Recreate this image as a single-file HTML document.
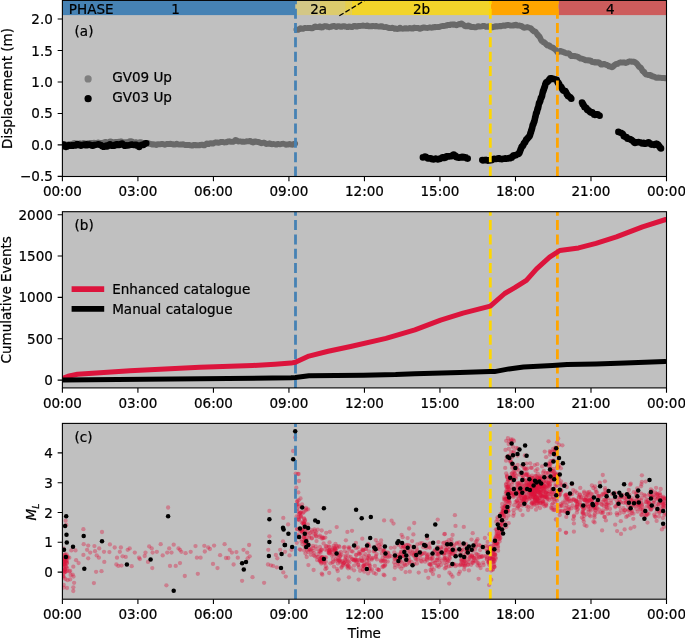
<!DOCTYPE html>
<html lang="en"><head><meta charset="utf-8"><title>Figure</title>
<style>html,body{margin:0;padding:0;background:#fff}svg{display:block}</style></head>
<body>
<svg width="685" height="638" viewBox="0 0 685 638" font-family='"DejaVu Sans","Liberation Sans",sans-serif' font-size="13.54" fill="#000"><style>text{stroke:#000;stroke-width:0.22px}</style>
<rect width="685" height="638" fill="#fff"/>
<defs>
<clipPath id="ca"><rect x="62.4" y="0.4" width="604.1" height="176.1"/></clipPath>
<clipPath id="cb"><rect x="62.4" y="211.7" width="604.1" height="176.2"/></clipPath>
<clipPath id="cc"><rect x="62.4" y="423.4" width="604.1" height="175.80000000000007"/></clipPath>
</defs>
<rect x="62.4" y="0.4" width="604.1" height="176.1" fill="#c0c0c0"/>
<rect x="62.4" y="211.7" width="604.1" height="176.2" fill="#c0c0c0"/>
<rect x="62.4" y="423.4" width="604.1" height="175.8" fill="#c0c0c0"/>
<g clip-path="url(#ca)">
<rect x="62.4" y="0" width="233.1" height="15.1" fill="#4682b4"/>
<rect x="295.5" y="0" width="24.5" height="15.1" fill="#d3c786"/>
<rect x="320.0" y="0" width="25.1" height="15.1" fill="#dccb6c"/>
<rect x="345.1" y="0" width="6.7" height="15.1" fill="#e6ce4c"/>
<rect x="351.8" y="0" width="139.2" height="15.1" fill="#f2d42a"/>
<rect x="491.0" y="0" width="67.5" height="15.1" fill="#ffa500"/>
<rect x="558.5" y="0" width="108.0" height="15.1" fill="#cd5c5c"/>
<path d="M339.3 15.8L364.4 0.6" stroke="#000" stroke-width="1.3" stroke-dasharray="5 2.2" fill="none"/>
<path d="M62.4 144.4h0M63.1 144.3h0M63.8 144.0h0M64.5 144.0h0M65.2 144.5h0M65.9 144.5h0M66.6 144.6h0M67.3 144.6h0M68.0 144.4h0M68.7 144.5h0M69.4 144.4h0M70.1 144.3h0M70.8 144.4h0M71.5 144.0h0M72.2 144.1h0M72.9 143.7h0M73.6 143.2h0M74.4 143.1h0M75.1 143.1h0M75.8 143.3h0M76.5 143.6h0M77.2 144.0h0M77.9 144.0h0M78.6 143.7h0M79.3 143.5h0M80.0 143.5h0M80.7 143.5h0M81.4 143.6h0M82.1 143.6h0M82.8 143.3h0M83.5 143.0h0M84.2 143.5h0M84.9 143.4h0M85.6 143.5h0M86.3 143.9h0M87.0 143.4h0M87.7 143.5h0M88.4 143.5h0M89.1 143.2h0M89.8 143.0h0M90.5 143.0h0M91.2 143.2h0M91.9 142.8h0M92.6 143.2h0M93.3 143.1h0M94.0 142.6h0M94.7 143.4h0M95.4 143.3h0M96.1 143.0h0M96.8 143.1h0M97.5 142.7h0M98.2 142.5h0M98.9 142.9h0M99.6 142.8h0M100.3 142.8h0M101.0 143.2h0M101.7 142.8h0M102.4 142.9h0M103.1 142.6h0M103.8 142.3h0M104.5 142.1h0M105.2 141.9h0M105.9 142.0h0M106.6 142.1h0M107.3 142.6h0M108.0 142.4h0M108.7 142.2h0M109.4 142.1h0M110.1 141.4h0M110.8 141.6h0M111.5 141.7h0M112.2 141.8h0M112.9 142.4h0M113.6 142.4h0M114.4 142.3h0M115.1 141.9h0M115.8 142.1h0M116.5 142.0h0M117.2 142.0h0M117.9 142.1h0M118.6 141.7h0M119.3 141.8h0M120.0 141.6h0M120.7 141.5h0M121.4 141.5h0M122.1 141.8h0M122.8 142.2h0M123.5 142.2h0M124.2 142.5h0M124.9 142.2h0M125.6 142.3h0M126.3 142.3h0M127.0 142.3h0M127.7 142.1h0M128.4 142.0h0M129.1 141.7h0M129.8 141.1h0M130.5 141.3h0M131.2 141.1h0M131.9 141.5h0M132.6 142.5h0M133.3 142.4h0M134.0 142.5h0M134.7 142.5h0M135.4 142.2h0M136.1 142.3h0M136.8 142.5h0M137.5 142.6h0M138.2 142.6h0M138.9 142.5h0M139.7 142.5h0M140.3 142.4h0M141.0 142.2h0M141.7 142.7h0M142.4 142.6h0M143.1 143.0h0M143.8 143.4h0M144.5 143.5h0M145.2 143.7h0M145.9 143.6h0M146.6 143.2h0M147.2 143.1h0M147.9 143.4h0M148.6 143.1h0M149.3 143.9h0M150.0 143.9h0M150.7 144.0h0M151.4 144.3h0M152.1 144.2h0M152.8 144.7h0M153.5 144.1h0M154.2 144.6h0M154.9 144.7h0M155.6 144.7h0M156.3 145.0h0M157.0 144.6h0M157.7 144.1h0M158.4 144.3h0M159.1 144.3h0M159.8 144.3h0M160.5 144.3h0M161.3 143.9h0M162.0 143.8h0M162.7 144.0h0M163.4 144.2h0M164.1 144.5h0M164.8 144.8h0M165.5 144.4h0M166.2 144.3h0M166.9 144.0h0M167.6 144.0h0M168.3 144.0h0M169.0 144.0h0M169.7 143.8h0M170.4 143.7h0M171.1 144.2h0M171.8 144.1h0M172.5 144.2h0M173.2 144.5h0M173.9 144.5h0M174.6 144.3h0M175.3 144.5h0M176.0 144.4h0M176.7 143.7h0M177.4 144.2h0M178.1 144.3h0M178.8 144.5h0M179.5 144.7h0M180.2 144.7h0M180.9 144.6h0M181.6 144.6h0M182.3 144.5h0M183.0 144.2h0M183.7 144.6h0M184.4 144.6h0M185.1 144.9h0M185.8 145.2h0M186.5 144.9h0M187.3 144.9h0M188.0 145.0h0M188.7 145.0h0M189.4 145.1h0M190.1 145.2h0M190.8 145.4h0M191.5 145.6h0M192.2 145.6h0M192.9 145.5h0M193.6 144.8h0M194.3 144.8h0M195.0 144.9h0M195.7 145.0h0M196.4 145.4h0M197.1 145.3h0M197.8 145.2h0M198.5 145.4h0M199.2 145.1h0M199.9 145.3h0M200.6 144.8h0M201.3 144.7h0M202.0 144.9h0M202.7 144.7h0M203.4 145.3h0M204.1 145.4h0M204.8 145.0h0M205.5 144.4h0M206.2 144.1h0M206.9 143.5h0M207.6 143.7h0M208.3 144.2h0M209.0 143.6h0M209.7 143.4h0M210.4 143.3h0M211.1 143.1h0M211.8 143.3h0M212.5 143.7h0M213.2 143.4h0M213.9 142.9h0M214.6 142.8h0M215.3 142.5h0M216.0 142.3h0M216.7 142.6h0M217.4 142.5h0M218.1 142.8h0M218.8 142.8h0M219.5 142.5h0M220.2 142.2h0M220.9 141.8h0M221.6 142.0h0M222.3 141.8h0M223.0 142.1h0M223.7 142.2h0M224.4 142.6h0M225.1 142.3h0M225.8 142.4h0M226.5 142.2h0M227.2 141.7h0M227.9 141.6h0M228.6 141.3h0M229.3 141.5h0M230.0 141.5h0M230.7 141.8h0M231.4 141.8h0M232.1 141.9h0M232.8 141.9h0M233.5 141.4h0M234.2 141.3h0M234.9 140.6h0M235.6 139.8h0M236.3 140.2h0M237.0 140.6h0M237.7 141.1h0M238.4 141.5h0M239.1 141.4h0M239.8 141.4h0M240.5 141.4h0M241.2 141.6h0M241.9 141.8h0M242.6 141.6h0M243.3 141.7h0M244.0 141.8h0M244.7 141.8h0M245.4 141.6h0M246.1 141.5h0M246.8 141.2h0M247.5 141.4h0M248.2 141.3h0M248.9 141.2h0M249.7 141.3h0M250.3 140.9h0M251.0 141.6h0M251.7 142.0h0M252.4 142.0h0M253.1 142.5h0M253.8 142.3h0M254.5 141.5h0M255.2 141.7h0M255.9 141.6h0M256.6 141.6h0M257.3 142.0h0M258.0 142.0h0M258.7 142.0h0M259.4 142.3h0M260.1 142.7h0M260.8 142.9h0M261.5 143.3h0M262.2 143.0h0M262.9 142.9h0M263.6 142.6h0M264.3 142.7h0M265.0 143.1h0M265.7 143.5h0M266.4 144.1h0M267.1 143.8h0M267.8 143.8h0M268.5 143.6h0M269.2 143.5h0M269.9 143.5h0M270.6 143.9h0M271.3 144.2h0M272.0 144.3h0M272.7 144.2h0M273.4 143.8h0M274.1 144.1h0M274.8 144.3h0M275.5 144.6h0M276.2 144.7h0M276.9 144.1h0M277.6 144.0h0M278.3 144.2h0M279.0 144.1h0M279.7 144.3h0M280.4 144.3h0M281.1 144.1h0M281.8 143.9h0M282.5 143.9h0M283.2 143.7h0M283.9 143.9h0M284.7 144.1h0M285.4 144.3h0M286.1 144.8h0M286.8 144.5h0M287.5 144.6h0M288.2 144.5h0M288.9 144.1h0M289.6 144.0h0M290.3 144.2h0M291.0 144.6h0M291.7 144.6h0M292.4 144.8h0M293.1 144.4h0M293.8 144.0h0M294.5 143.8h0M295.2 143.6h0" stroke="#696969" stroke-width="5.8" stroke-linecap="round" fill="none"/>
<path d="M296.4 29.4h0M297.1 29.8h0M297.8 29.9h0M298.5 29.5h0M299.2 29.2h0M299.9 28.7h0M300.6 28.2h0M301.3 28.5h0M302.0 28.8h0M302.7 28.9h0M303.4 28.6h0M304.1 28.1h0M304.8 27.9h0M305.5 28.0h0M306.2 28.1h0M306.9 28.2h0M307.6 28.0h0M308.3 28.0h0M309.0 27.9h0M309.7 27.8h0M310.4 27.9h0M311.1 28.3h0M311.8 28.3h0M312.5 28.3h0M313.2 27.7h0M313.9 27.4h0M314.6 26.7h0M315.3 26.3h0M316.0 26.9h0M316.7 26.9h0M317.4 27.2h0M318.1 27.1h0M318.8 26.8h0M319.5 26.4h0M320.2 26.5h0M320.9 27.4h0M321.6 27.5h0M322.3 27.4h0M323.0 26.9h0M323.7 26.3h0M324.4 26.2h0M325.1 26.1h0M325.8 26.4h0M326.5 26.2h0M327.2 26.4h0M327.9 26.9h0M328.6 27.1h0M329.3 27.3h0M330.0 27.1h0M330.7 26.9h0M331.4 26.5h0M332.1 26.6h0M332.8 26.1h0M333.5 25.8h0M334.2 26.1h0M334.9 26.1h0M335.6 26.5h0M336.3 27.0h0M337.0 26.4h0M337.7 26.3h0M338.4 26.3h0M339.1 26.1h0M339.8 26.4h0M340.5 26.8h0M341.2 26.9h0M341.9 26.5h0M342.6 26.4h0M343.3 26.3h0M344.0 26.3h0M344.7 26.2h0M345.4 26.7h0M346.1 26.6h0M346.8 26.8h0M347.5 27.2h0M348.2 26.8h0M348.9 26.4h0M349.6 26.7h0M350.4 26.7h0M351.1 27.1h0M351.8 27.2h0M352.5 26.7h0M353.2 26.3h0M353.9 25.9h0M354.6 26.2h0M355.3 25.9h0M356.0 26.5h0M356.7 26.7h0M357.4 26.2h0M358.1 26.3h0M358.8 26.0h0M359.5 25.9h0M360.2 26.0h0M360.9 25.9h0M361.6 25.9h0M362.3 25.7h0M363.0 25.5h0M363.7 25.7h0M364.4 25.9h0M365.1 25.8h0M365.8 26.1h0M366.5 25.9h0M367.2 25.5h0M367.9 26.0h0M368.6 25.9h0M369.3 26.4h0M370.0 26.4h0M370.7 26.3h0M371.4 26.4h0M372.1 25.8h0M372.8 26.1h0M373.5 26.0h0M374.2 26.2h0M374.9 26.3h0M375.6 26.0h0M376.3 26.1h0M377.0 26.1h0M377.7 26.4h0M378.4 26.6h0M379.1 26.7h0M379.8 26.4h0M380.5 26.4h0M381.2 26.5h0M381.9 26.2h0M382.5 26.7h0M383.2 26.9h0M383.9 26.9h0M384.6 27.2h0M385.3 27.2h0M386.0 26.8h0M386.7 27.3h0M387.4 27.5h0M388.1 27.6h0M388.8 28.1h0M389.5 27.9h0M390.2 28.2h0M390.9 28.2h0M391.6 27.8h0M392.3 27.6h0M393.0 27.9h0M393.7 28.1h0M394.4 28.5h0M395.1 28.9h0M395.8 28.6h0M396.5 28.7h0M397.2 29.1h0M397.9 28.9h0M398.6 28.6h0M399.3 28.4h0M400.0 27.7h0M400.7 28.1h0M401.4 28.7h0M402.1 28.7h0M402.8 28.8h0M403.5 28.6h0M404.2 28.7h0M404.9 28.2h0M405.6 28.6h0M406.3 28.4h0M407.0 28.3h0M407.7 28.7h0M408.4 28.4h0M409.1 28.3h0M409.8 27.8h0M410.5 28.3h0M411.2 28.5h0M411.9 28.7h0M412.6 28.7h0M413.3 27.9h0M414.0 27.6h0M414.7 27.7h0M415.4 27.8h0M416.1 28.2h0M416.8 28.0h0M417.5 27.9h0M418.2 27.9h0M418.9 28.2h0M419.6 28.8h0M420.3 28.8h0M421.0 28.6h0M421.7 28.3h0M422.4 27.7h0M423.1 27.6h0M423.8 27.7h0M424.5 27.5h0M425.2 27.7h0M425.9 27.9h0M426.6 27.9h0M427.4 28.1h0M428.1 27.8h0M428.8 27.6h0M429.5 27.5h0M430.2 27.4h0M430.9 27.6h0M431.6 27.8h0M432.3 27.5h0M433.0 27.6h0M433.7 27.2h0M434.4 27.1h0M435.1 27.3h0M435.8 26.8h0M436.5 27.1h0M437.2 27.1h0M437.8 27.0h0M438.5 27.2h0M439.2 27.0h0M439.9 26.6h0M440.6 26.4h0M441.3 26.3h0M442.0 26.2h0M442.7 26.0h0M443.3 26.0h0M444.0 26.0h0M444.7 25.8h0M445.4 25.8h0M446.1 25.7h0M446.8 25.1h0M447.4 25.1h0M448.1 25.1h0M448.8 24.9h0M449.5 25.2h0M450.2 24.7h0M450.9 24.5h0M451.6 24.6h0M452.3 24.6h0M453.0 24.8h0M453.7 24.5h0M454.4 24.5h0M455.1 24.7h0M455.8 24.9h0M456.5 25.3h0M457.2 24.8h0M457.9 24.7h0M458.6 24.5h0M459.3 23.9h0M460.0 24.3h0M460.7 23.7h0M461.4 23.5h0M462.1 24.0h0M462.8 24.4h0M463.5 24.8h0M464.1 25.3h0M464.8 26.0h0M465.5 26.2h0M466.2 26.4h0M466.9 26.4h0M467.6 25.9h0M468.3 25.5h0M469.0 25.8h0M469.6 26.0h0M470.3 26.4h0M471.0 27.0h0M471.7 26.8h0M472.4 26.8h0M473.1 27.0h0M473.8 26.9h0M474.5 27.3h0M475.2 27.4h0M475.9 27.2h0M476.6 27.1h0M477.3 26.7h0M478.0 26.2h0M478.7 26.4h0M479.4 26.3h0M480.1 26.6h0M480.8 26.6h0M481.5 26.4h0M482.2 26.3h0M482.9 26.0h0M483.6 25.9h0M484.3 25.9h0M485.0 26.2h0M485.7 26.5h0M486.4 26.9h0M487.1 26.9h0M487.9 26.9h0M488.6 26.2h0M489.3 26.3h0M490.0 26.4h0M490.7 26.3h0M491.3 27.2h0M492.0 27.4h0M492.7 27.3h0M493.4 27.1h0M494.1 26.9h0M494.8 26.4h0M495.5 26.2h0M496.2 26.3h0M496.9 26.5h0M497.6 26.5h0M498.3 26.4h0M499.0 26.2h0M499.7 26.0h0M500.4 26.0h0M501.1 26.3h0M501.8 26.0h0M502.5 25.7h0M503.2 25.6h0M503.9 25.4h0M504.6 25.9h0M505.3 25.5h0M506.0 25.4h0M506.7 25.2h0M507.4 24.8h0M508.1 24.8h0M508.8 25.2h0M509.5 25.3h0M510.2 25.5h0M510.9 25.7h0M511.6 25.7h0M512.3 25.5h0M513.1 25.6h0M513.8 25.5h0M514.5 25.0h0M515.2 25.1h0M515.9 24.7h0M516.6 25.1h0M517.2 25.5h0M517.9 25.3h0M518.6 25.6h0M519.3 25.5h0M520.0 25.8h0M520.7 25.9h0M521.4 25.9h0M522.1 26.4h0M522.8 26.8h0M523.5 27.5h0M524.2 27.8h0M524.9 27.7h0M525.6 27.6h0M526.2 27.3h0M526.9 27.1h0M527.6 27.2h0M528.2 27.4h0M528.8 27.6h0M529.4 27.8h0M530.0 27.8h0M530.6 28.2h0M531.2 28.6h0M531.8 29.3h0M532.4 30.1h0M533.0 30.4h0M533.6 30.9h0M534.2 31.4h0M534.8 31.5h0M535.3 31.7h0M535.8 32.1h0M536.2 32.8h0M536.7 33.6h0M537.1 34.0h0M537.5 34.7h0M538.0 35.0h0M538.4 35.7h0M538.8 36.0h0M539.3 36.4h0M539.7 36.9h0M540.2 37.9h0M540.6 39.0h0M541.0 39.8h0M541.5 40.6h0M541.9 41.0h0M542.4 41.3h0M542.9 41.6h0M543.5 42.2h0M544.1 42.2h0M544.6 42.8h0M545.2 43.2h0M545.8 43.8h0M546.4 44.4h0M546.9 44.8h0M547.5 45.5h0M548.1 45.0h0M548.6 45.2h0M549.2 45.4h0M549.8 45.8h0M550.4 46.8h0M550.9 47.0h0M551.5 47.1h0M552.1 47.4h0M552.6 47.5h0M553.2 47.9h0M553.8 48.6h0M554.4 48.8h0M554.9 48.9h0M555.5 49.7h0M556.1 50.3h0M556.7 51.0h0M557.3 52.1h0M558.0 52.0h0M558.7 51.7h0M559.4 51.5h0M560.0 50.9h0M560.7 51.0h0M561.4 51.6h0M562.1 51.5h0M562.8 52.0h0M563.4 52.0h0M564.1 52.2h0M564.8 52.8h0M565.5 52.8h0M566.2 53.3h0M566.8 53.3h0M567.5 53.4h0M568.2 53.2h0M568.9 53.4h0M569.6 54.1h0M570.2 54.9h0M570.9 55.8h0M571.6 56.2h0M572.2 55.8h0M572.9 56.0h0M573.6 55.9h0M574.2 55.9h0M574.9 56.3h0M575.5 56.2h0M576.2 56.4h0M576.9 56.6h0M577.5 56.6h0M578.2 56.8h0M578.8 57.6h0M579.5 57.9h0M580.2 58.3h0M580.8 58.7h0M581.5 58.6h0M582.1 58.6h0M582.8 58.9h0M583.5 59.2h0M584.2 59.3h0M584.8 59.7h0M585.5 60.3h0M586.2 60.2h0M586.9 60.3h0M587.5 60.4h0M588.2 60.5h0M588.9 60.5h0M589.5 60.5h0M590.2 60.7h0M590.9 60.7h0M591.6 61.4h0M592.2 62.1h0M592.9 62.1h0M593.6 62.3h0M594.3 62.3h0M594.9 62.0h0M595.6 62.7h0M596.3 62.5h0M597.0 62.3h0M597.6 62.5h0M598.3 62.2h0M599.0 62.5h0M599.7 63.2h0M600.4 63.5h0M601.0 64.4h0M601.7 64.7h0M602.4 64.4h0M603.1 64.4h0M603.8 64.0h0M604.4 63.9h0M605.1 64.5h0M605.8 64.7h0M606.5 64.7h0M607.2 65.3h0M607.8 65.3h0M608.5 65.7h0M609.2 66.4h0M609.9 66.5h0M610.6 66.7h0M611.2 67.1h0M611.9 67.3h0M612.5 66.9h0M613.1 66.6h0M613.8 65.7h0M614.4 65.2h0M615.0 64.7h0M615.6 64.4h0M616.2 64.0h0M616.9 64.1h0M617.5 63.9h0M618.1 63.3h0M618.8 63.1h0M619.5 62.6h0M620.2 62.4h0M620.9 62.4h0M621.6 62.7h0M622.3 62.5h0M623.0 62.6h0M623.7 62.5h0M624.4 62.4h0M625.1 62.6h0M625.8 63.0h0M626.4 62.8h0M627.1 62.6h0M627.8 62.1h0M628.5 61.6h0M629.2 61.5h0M629.9 61.3h0M630.6 61.6h0M631.3 61.4h0M631.9 61.7h0M632.6 61.9h0M633.3 61.6h0M634.0 61.7h0M634.6 62.0h0M635.3 62.4h0M636.0 63.0h0M636.6 63.3h0M637.0 63.8h0M637.5 64.4h0M638.0 65.1h0M638.5 66.0h0M639.0 66.4h0M639.4 66.9h0M639.9 67.2h0M640.4 67.4h0M640.9 68.0h0M641.4 68.7h0M641.8 69.3h0M642.3 70.4h0M642.8 71.0h0M643.3 71.4h0M643.8 71.7h0M644.2 71.9h0M644.7 73.1h0M645.2 73.6h0M645.7 74.1h0M646.2 74.6h0M646.7 74.6h0M647.4 74.8h0M648.0 75.0h0M648.7 74.8h0M649.4 74.8h0M650.1 74.8h0M650.8 75.1h0M651.4 75.9h0M652.1 76.2h0M652.8 76.6h0M653.5 76.5h0M654.2 76.6h0M654.8 77.1h0M655.5 77.3h0M656.2 77.8h0M656.9 77.8h0M657.6 77.8h0M658.3 77.5h0M659.0 77.6h0M659.7 77.8h0M660.4 77.6h0M661.1 77.9h0M661.7 78.1h0M662.4 78.0h0M663.1 78.0h0M663.8 78.2h0M664.5 78.0h0M665.2 78.1h0M665.9 78.4h0" stroke="#696969" stroke-width="5.8" stroke-linecap="round" fill="none"/>
<path d="M62.4 144.7h0M63.1 144.4h0M63.8 144.6h0M64.5 145.9h0M65.2 146.7h0M66.0 147.0h0M66.7 146.8h0M67.4 146.0h0M68.1 145.2h0M68.8 145.9h0M69.5 145.1h0M70.2 145.5h0M70.9 145.4h0M71.6 145.3h0M72.4 145.9h0M73.1 145.2h0M73.8 145.4h0M74.5 145.1h0M75.2 145.1h0M75.9 145.5h0M76.6 145.2h0M77.3 144.0h0M78.0 144.4h0M78.8 144.5h0M79.5 144.7h0M80.2 145.6h0M80.9 145.7h0M81.6 145.2h0M82.3 144.9h0M83.0 144.8h0M83.7 144.8h0M84.4 144.5h0M85.2 145.2h0M85.9 145.0h0M86.6 144.1h0M87.3 145.2h0M88.0 144.7h0M88.7 144.4h0M89.4 144.7h0M90.1 144.6h0M90.8 145.1h0M91.6 145.4h0M92.3 145.7h0M93.0 145.7h0M93.7 144.9h0M94.4 145.2h0M95.1 145.1h0M95.8 144.6h0M96.5 144.6h0M97.2 144.5h0M98.0 144.5h0M98.7 144.5h0M99.4 144.5h0M100.1 145.0h0M100.8 145.0h0M101.5 145.6h0M102.2 146.3h0M102.9 146.1h0M103.6 146.9h0M104.3 146.2h0M105.1 146.0h0M105.8 145.7h0M106.5 145.5h0M107.2 146.5h0M107.9 145.4h0M108.6 145.2h0M109.3 144.7h0M110.0 144.3h0M110.7 145.4h0M111.5 145.7h0M112.2 145.7h0M112.9 145.6h0M113.6 145.3h0M114.3 145.7h0M115.0 144.6h0M115.7 144.6h0M116.4 144.2h0M117.1 144.2h0M117.9 145.0h0M118.6 144.4h0M119.3 145.0h0M120.0 144.2h0M120.7 144.0h0M121.4 143.7h0M122.1 143.5h0M122.8 144.1h0M123.5 144.9h0M124.3 145.4h0M125.0 145.9h0M125.7 145.7h0M126.4 145.2h0M127.1 145.5h0M127.8 145.5h0M128.5 145.4h0M129.2 145.3h0M129.9 145.0h0M130.7 144.6h0M131.4 144.4h0M132.1 144.9h0M132.8 144.8h0M133.5 145.0h0M134.2 145.0h0M134.9 144.7h0M135.6 145.1h0M136.3 144.7h0M137.1 145.8h0M137.8 145.8h0M138.5 146.4h0M139.2 147.0h0M139.9 145.9h0M140.6 145.6h0M141.3 145.0h0M142.0 144.7h0M142.7 145.0h0M143.5 145.0h0M144.2 144.1h0M144.9 144.0h0M145.6 143.1h0M146.3 143.3h0" stroke="#000" stroke-width="6.4" stroke-linecap="round" fill="none"/>
<path d="M422.9 157.4h0M423.6 157.2h0M424.3 157.0h0M425.0 156.5h0M425.7 156.7h0M426.4 157.6h0M427.1 157.7h0M427.9 158.4h0M428.6 158.4h0M429.3 158.2h0M430.0 158.4h0M430.7 158.3h0M431.4 158.8h0M432.1 159.2h0M432.8 159.3h0M433.5 159.4h0M434.2 159.1h0M435.0 158.8h0M435.7 158.7h0M436.4 158.9h0M437.1 159.2h0M437.8 159.5h0M438.5 159.1h0M439.2 158.8h0M439.9 159.0h0M440.6 158.2h0M441.3 158.3h0M441.9 158.1h0M442.6 157.3h0M443.3 157.2h0M444.0 157.8h0M444.6 157.9h0M445.3 157.7h0M446.0 157.3h0M446.7 156.3h0M447.4 156.2h0M448.1 156.2h0M448.8 156.2h0M449.5 156.4h0M450.2 156.3h0M450.9 156.3h0M451.6 156.2h0M452.3 155.5h0M453.0 155.0h0M453.7 154.6h0M454.4 155.2h0M455.1 155.6h0M455.8 156.0h0M456.5 157.2h0M457.2 157.5h0M457.9 157.5h0M458.6 157.8h0M459.3 157.7h0M460.0 157.4h0M460.7 157.5h0M461.4 157.4h0M462.1 156.8h0M462.8 157.5h0M463.5 157.2h0M464.2 157.1h0M464.9 157.6h0M465.6 157.3h0M466.3 158.0h0M467.0 158.5h0M467.7 158.6h0" stroke="#000" stroke-width="6.6" stroke-linecap="round" fill="none"/>
<path d="M482.3 160.1h0M483.0 160.4h0M483.7 160.2h0M484.4 160.1h0M485.1 160.2h0M485.8 160.1h0M486.5 160.1h0M487.2 160.5h0M487.9 160.8h0M488.6 160.3h0M489.3 160.4h0M490.0 160.5h0M490.7 160.1h0M491.4 160.3h0M492.1 160.1h0M492.8 159.4h0M493.5 159.2h0M494.2 158.9h0M494.9 159.0h0M495.6 159.0h0M496.3 158.9h0M497.0 158.8h0M497.7 158.6h0M498.4 158.4h0M499.1 158.4h0M499.8 158.9h0M500.5 158.9h0M501.2 159.1h0M501.9 159.2h0M502.6 159.0h0M503.3 158.8h0M504.0 158.6h0M504.7 158.7h0M505.4 158.4h0M506.1 158.7h0M506.8 158.7h0M507.5 158.4h0M508.2 158.5h0M508.9 158.0h0M509.6 158.0h0M510.3 158.0h0M511.0 158.1h0M511.6 157.7h0M512.2 156.8h0M512.8 156.5h0M513.4 155.5h0M514.0 155.3h0M514.6 155.6h0M515.3 155.5h0M515.9 155.3h0M516.5 154.8h0M517.1 154.6h0M517.7 154.2h0M518.3 154.1h0M518.6 153.8h0M518.9 153.3h0M519.3 152.9h0M519.6 152.3h0M519.9 151.6h0M520.3 150.6h0M520.6 149.6h0M521.0 148.7h0M521.3 148.0h0M521.6 147.1h0M522.0 146.6h0M522.3 146.2h0M522.7 146.1h0M523.0 145.5h0M523.3 144.8h0M523.7 144.2h0M524.0 143.2h0M524.5 143.0h0M524.9 142.4h0M525.3 141.7h0M525.8 140.7h0M526.2 139.8h0M526.6 139.4h0M527.0 139.0h0M527.5 138.6h0M527.9 138.1h0M528.3 137.5h0M528.8 137.0h0M529.2 136.5h0M529.6 136.0h0M530.0 135.1h0M530.2 134.1h0M530.4 133.8h0M530.6 132.8h0M530.8 132.4h0M531.0 132.0h0M531.2 130.9h0M531.4 130.5h0M531.6 129.9h0M531.8 129.2h0M532.0 128.5h0M532.2 127.7h0M532.4 127.0h0M532.5 126.1h0M532.7 125.3h0M532.9 125.1h0M533.1 124.6h0M533.3 124.2h0M533.5 123.6h0M533.7 123.0h0M533.9 122.5h0M534.1 121.8h0M534.3 121.5h0M534.5 120.7h0M534.7 119.7h0M534.9 119.0h0M535.1 117.7h0M535.3 117.1h0M535.5 116.4h0M535.7 115.5h0M535.8 114.7h0M536.0 113.8h0M536.2 113.2h0M536.4 112.8h0M536.6 112.7h0M536.8 112.2h0M537.0 111.5h0M537.2 110.4h0M537.4 109.7h0M537.6 108.9h0M537.8 108.4h0M538.0 108.3h0M538.2 107.5h0M538.4 106.6h0M538.6 105.6h0M538.8 104.3h0M539.0 103.4h0M539.2 103.3h0M539.4 102.8h0M539.7 102.1h0M539.9 101.8h0M540.1 101.2h0M540.3 100.4h0M540.5 99.9h0M540.7 99.0h0M540.9 98.1h0M541.1 97.7h0M541.4 97.4h0M541.6 97.0h0M541.8 96.5h0M542.0 96.0h0M542.2 95.2h0M542.4 94.0h0M542.6 93.1h0M542.8 92.2h0M543.0 91.3h0M543.3 91.1h0M543.5 90.4h0M543.7 89.5h0M543.9 89.2h0M544.1 88.5h0M544.3 87.9h0M544.5 87.6h0M544.7 86.9h0M545.0 86.1h0M545.2 84.9h0M545.5 84.0h0M545.9 83.1h0M546.4 82.3h0M546.8 82.3h0M547.3 82.1h0M547.7 81.6h0M548.2 81.0h0M548.6 80.8h0M549.1 80.0h0M549.5 79.3h0M550.0 79.0h0M550.4 78.2h0M551.1 78.3h0M551.8 78.9h0M552.5 78.9h0M553.2 78.8h0M553.9 79.1h0M554.6 79.2h0M555.2 79.4h0M555.9 79.8h0M556.6 79.9h0M557.0 80.9h0M557.3 81.5h0M557.7 82.3h0M558.1 82.9h0M558.4 82.9h0M558.8 83.8h0M559.2 84.3h0M559.5 85.2h0M559.9 85.9h0M560.2 86.2h0M560.6 86.5h0M561.0 86.9h0M561.5 87.5h0M562.0 88.5h0M562.4 89.2h0M562.9 89.8h0M563.3 90.5h0M563.8 90.8h0M564.3 91.0h0M564.7 91.1h0M565.2 91.0h0M565.6 91.8h0M566.1 92.5h0M566.5 93.5h0M567.0 94.4h0M567.5 95.0h0M568.0 95.9h0M568.4 96.1h0M568.9 96.5h0M569.4 96.7h0M569.9 97.0h0M570.3 97.5h0M570.8 98.0h0M571.3 98.8h0" stroke="#000" stroke-width="6.6" stroke-linecap="round" fill="none"/>
<path d="M582.0 102.6h0M582.4 103.1h0M582.7 104.2h0M583.1 104.4h0M583.5 105.1h0M583.8 105.6h0M584.2 106.2h0M584.6 107.3h0M584.9 107.0h0M585.4 107.5h0M586.0 107.8h0M586.6 108.5h0M587.2 109.7h0M587.8 110.3h0M588.4 110.3h0M589.0 110.7h0M589.6 111.5h0M590.2 111.9h0M590.8 112.6h0M591.5 112.2h0M592.2 112.2h0M592.8 113.2h0M593.5 113.7h0M594.2 114.7h0M594.9 114.9h0M595.5 114.2h0M596.2 114.7h0M596.9 114.3h0M597.6 114.4h0M598.2 115.0h0M598.9 115.2h0M599.6 115.8h0" stroke="#000" stroke-width="6.6" stroke-linecap="round" fill="none"/>
<path d="M618.4 131.9h0M619.0 132.2h0M619.6 132.5h0M620.2 132.8h0M620.8 132.9h0M621.5 133.2h0M622.1 133.5h0M622.7 134.0h0M623.3 135.0h0M623.9 136.2h0M624.5 136.6h0M625.1 136.8h0M625.7 137.3h0M626.3 137.1h0M627.0 137.7h0M627.6 138.7h0M628.2 138.8h0M628.8 138.9h0M629.4 139.0h0M630.0 139.0h0M630.6 139.6h0M631.3 139.9h0M631.9 140.3h0M632.5 140.7h0M633.1 141.2h0M633.7 141.7h0M634.3 142.5h0M635.0 142.9h0M635.6 142.5h0M636.3 142.6h0M637.0 142.5h0M637.8 142.2h0M638.5 142.1h0M639.2 142.2h0M639.9 142.2h0M640.6 142.8h0M641.3 142.8h0M642.1 143.5h0M642.8 143.0h0M643.5 142.9h0M644.2 143.7h0M644.9 143.4h0M645.6 143.8h0M646.3 143.3h0M647.1 143.2h0M647.8 142.9h0M648.5 142.3h0M649.2 143.3h0M649.9 143.4h0M650.6 144.1h0M651.3 144.6h0M652.0 144.3h0M652.8 144.6h0M653.5 144.6h0M654.2 144.9h0M654.9 144.4h0M655.5 144.3h0M656.1 143.7h0M656.7 143.7h0M657.3 144.4h0M657.9 144.5h0M658.5 145.4h0M659.2 146.2h0M659.8 147.0h0M660.4 148.0h0M661.0 148.4h0" stroke="#000" stroke-width="6.6" stroke-linecap="round" fill="none"/>
<path d="M295.5 176.5V0.4" stroke="#4682b4" stroke-width="2.8" stroke-dasharray="10 4.35" fill="none"/>
<path d="M490.3 176.5V0.4" stroke="#ffd700" stroke-width="2.8" stroke-dasharray="10 4.35" fill="none"/>
<path d="M557.4 176.5V0.4" stroke="#ffa500" stroke-width="2.8" stroke-dasharray="10 4.35" fill="none"/>
</g>
<g clip-path="url(#cb)">
<path d="M295.5 387.9V211.7" stroke="#4682b4" stroke-width="2.8" stroke-dasharray="10 4.35" fill="none"/>
<path d="M490.3 387.9V211.7" stroke="#ffd700" stroke-width="2.8" stroke-dasharray="10 4.35" fill="none"/>
<path d="M557.4 387.9V211.7" stroke="#ffa500" stroke-width="2.8" stroke-dasharray="10 4.35" fill="none"/>
<path d="M62.4 379.3L64.0 377.8L68.0 376.3L77.5 374.3L100.0 372.7L130.0 370.8L165.0 369.0L200.0 367.3L252.7 365.5L275.0 364.3L291.0 363.1L295.4 362.3L308.9 356.1L328.2 351.3L350.6 346.5L386.0 338.4L414.9 329.8L440.6 320.1L463.0 313.1L490.3 306.2L504.7 293.5L514.8 287.7L526.4 280.4L536.6 268.8L549.6 257.2L559.8 250.5L578.6 247.9L596.0 243.3L616.4 236.9L642.5 226.8L665.7 219.5" stroke="#dc143c" stroke-width="5.0" stroke-linejoin="round" stroke-linecap="round" fill="none"/>
<path d="M62.4 380.0L291.0 377.8L295.4 377.6L308.9 375.7L363.5 375.2L395.6 374.6L414.9 373.8L459.8 372.5L490.3 371.6L494.5 371.6L509.0 368.9L523.5 366.9L552.5 365.4L567.0 364.6L596.0 364.0L625.0 363.1L665.0 361.6" stroke="#000" stroke-width="5.0" stroke-linejoin="round" stroke-linecap="round" fill="none"/>
</g>
<g clip-path="url(#cc)">
<g fill="#dc143c" fill-opacity="0.38">
<circle cx="65.6" cy="520.7" r="2.15"/><circle cx="66.2" cy="525.0" r="2.15"/><circle cx="83.4" cy="529.2" r="2.15"/><circle cx="102.0" cy="532.0" r="2.15"/><circle cx="168.1" cy="507.5" r="2.15"/><circle cx="83.7" cy="544.2" r="2.15"/><circle cx="88.2" cy="545.6" r="2.15"/><circle cx="94.4" cy="546.1" r="2.15"/><circle cx="99.2" cy="548.4" r="2.15"/><circle cx="109.9" cy="544.4" r="2.15"/><circle cx="114.7" cy="547.5" r="2.15"/><circle cx="120.9" cy="547.5" r="2.15"/><circle cx="127.7" cy="549.8" r="2.15"/><circle cx="129.7" cy="548.4" r="2.15"/><circle cx="87.1" cy="549.8" r="2.15"/><circle cx="83.4" cy="554.9" r="2.15"/><circle cx="88.2" cy="558.3" r="2.15"/><circle cx="90.2" cy="552.6" r="2.15"/><circle cx="95.0" cy="551.2" r="2.15"/><circle cx="96.7" cy="555.4" r="2.15"/><circle cx="98.9" cy="557.7" r="2.15"/><circle cx="104.0" cy="551.8" r="2.15"/><circle cx="109.4" cy="552.1" r="2.15"/><circle cx="104.3" cy="561.9" r="2.15"/><circle cx="75.5" cy="550.4" r="2.15"/><circle cx="71.3" cy="550.4" r="2.15"/><circle cx="69.3" cy="557.7" r="2.15"/><circle cx="76.1" cy="560.2" r="2.15"/><circle cx="78.6" cy="563.1" r="2.15"/><circle cx="73.3" cy="566.7" r="2.15"/><circle cx="70.2" cy="571.0" r="2.15"/><circle cx="72.7" cy="574.6" r="2.15"/><circle cx="73.5" cy="576.6" r="2.15"/><circle cx="74.1" cy="582.8" r="2.15"/><circle cx="73.3" cy="587.3" r="2.15"/><circle cx="73.3" cy="591.0" r="2.15"/><circle cx="93.9" cy="583.1" r="2.15"/><circle cx="96.1" cy="571.8" r="2.15"/><circle cx="101.5" cy="571.2" r="2.15"/><circle cx="117.0" cy="557.7" r="2.15"/><circle cx="119.8" cy="551.8" r="2.15"/><circle cx="122.6" cy="556.3" r="2.15"/><circle cx="125.7" cy="556.9" r="2.15"/><circle cx="116.4" cy="564.5" r="2.15"/><circle cx="118.4" cy="565.9" r="2.15"/><circle cx="121.5" cy="565.6" r="2.15"/><circle cx="131.7" cy="566.2" r="2.15"/><circle cx="134.8" cy="552.6" r="2.15"/><circle cx="139.0" cy="557.7" r="2.15"/><circle cx="139.9" cy="559.1" r="2.15"/><circle cx="145.5" cy="552.6" r="2.15"/><circle cx="144.7" cy="556.0" r="2.15"/><circle cx="148.0" cy="561.9" r="2.15"/><circle cx="149.2" cy="546.4" r="2.15"/><circle cx="151.7" cy="548.4" r="2.15"/><circle cx="152.6" cy="552.6" r="2.15"/><circle cx="156.8" cy="551.8" r="2.15"/><circle cx="160.7" cy="544.2" r="2.15"/><circle cx="162.7" cy="555.4" r="2.15"/><circle cx="167.2" cy="552.6" r="2.15"/><circle cx="169.2" cy="548.4" r="2.15"/><circle cx="171.5" cy="552.6" r="2.15"/><circle cx="173.7" cy="544.7" r="2.15"/><circle cx="152.3" cy="568.1" r="2.15"/><circle cx="170.0" cy="565.9" r="2.15"/><circle cx="175.7" cy="565.9" r="2.15"/><circle cx="166.4" cy="585.3" r="2.15"/><circle cx="178.5" cy="548.4" r="2.15"/><circle cx="180.0" cy="549.8" r="2.15"/><circle cx="181.4" cy="551.8" r="2.15"/><circle cx="185.6" cy="553.2" r="2.15"/><circle cx="190.7" cy="551.8" r="2.15"/><circle cx="195.5" cy="546.1" r="2.15"/><circle cx="196.9" cy="557.7" r="2.15"/><circle cx="200.6" cy="557.7" r="2.15"/><circle cx="204.3" cy="545.8" r="2.15"/><circle cx="204.8" cy="551.5" r="2.15"/><circle cx="208.2" cy="547.5" r="2.15"/><circle cx="209.9" cy="549.0" r="2.15"/><circle cx="214.1" cy="545.6" r="2.15"/><circle cx="220.1" cy="555.2" r="2.15"/><circle cx="224.6" cy="544.2" r="2.15"/><circle cx="226.0" cy="558.0" r="2.15"/><circle cx="228.3" cy="558.0" r="2.15"/><circle cx="229.7" cy="549.8" r="2.15"/><circle cx="231.9" cy="552.6" r="2.15"/><circle cx="236.4" cy="552.1" r="2.15"/><circle cx="237.8" cy="557.7" r="2.15"/><circle cx="213.0" cy="563.9" r="2.15"/><circle cx="217.5" cy="568.1" r="2.15"/><circle cx="233.6" cy="564.5" r="2.15"/><circle cx="184.8" cy="576.0" r="2.15"/><circle cx="197.8" cy="573.8" r="2.15"/><circle cx="180.0" cy="563.1" r="2.15"/><circle cx="242.1" cy="580.8" r="2.15"/><circle cx="252.5" cy="577.2" r="2.15"/><circle cx="264.1" cy="582.8" r="2.15"/><circle cx="243.5" cy="549.8" r="2.15"/><circle cx="247.2" cy="552.6" r="2.15"/><circle cx="249.1" cy="545.0" r="2.15"/><circle cx="247.7" cy="558.3" r="2.15"/><circle cx="249.7" cy="556.3" r="2.15"/><circle cx="269.4" cy="510.9" r="2.15"/><circle cx="269.4" cy="536.3" r="2.15"/><circle cx="268.3" cy="549.8" r="2.15"/><circle cx="268.0" cy="564.5" r="2.15"/><circle cx="270.9" cy="565.3" r="2.15"/><circle cx="273.1" cy="565.9" r="2.15"/><circle cx="276.8" cy="567.3" r="2.15"/><circle cx="283.3" cy="572.4" r="2.15"/><circle cx="285.8" cy="576.6" r="2.15"/><circle cx="283.3" cy="517.9" r="2.15"/><circle cx="288.1" cy="524.4" r="2.15"/><circle cx="275.9" cy="554.9" r="2.15"/><circle cx="277.3" cy="558.3" r="2.15"/><circle cx="280.2" cy="549.8" r="2.15"/><circle cx="283.0" cy="541.3" r="2.15"/><circle cx="285.0" cy="551.8" r="2.15"/><circle cx="289.5" cy="555.4" r="2.15"/><circle cx="291.5" cy="549.8" r="2.15"/><circle cx="295.1" cy="437.5" r="2.15"/><circle cx="293.1" cy="451.0" r="2.15"/><circle cx="295.7" cy="473.6" r="2.15"/><circle cx="296.3" cy="487.7" r="2.15"/><circle cx="297.1" cy="501.8" r="2.15"/><circle cx="65.0" cy="565.7" r="2.15"/><circle cx="63.7" cy="585.0" r="2.15"/><circle cx="65.3" cy="558.9" r="2.15"/><circle cx="66.3" cy="567.2" r="2.15"/><circle cx="63.6" cy="548.7" r="2.15"/><circle cx="66.5" cy="554.3" r="2.15"/><circle cx="63.1" cy="576.3" r="2.15"/><circle cx="67.4" cy="557.0" r="2.15"/><circle cx="64.9" cy="569.5" r="2.15"/><circle cx="63.4" cy="564.5" r="2.15"/><circle cx="65.3" cy="556.1" r="2.15"/><circle cx="66.0" cy="562.0" r="2.15"/><circle cx="66.3" cy="560.6" r="2.15"/><circle cx="66.9" cy="560.9" r="2.15"/><circle cx="69.4" cy="571.4" r="2.15"/><circle cx="64.2" cy="570.5" r="2.15"/><circle cx="64.8" cy="560.1" r="2.15"/><circle cx="64.8" cy="557.3" r="2.15"/><circle cx="63.7" cy="567.4" r="2.15"/><circle cx="65.0" cy="564.1" r="2.15"/><circle cx="63.6" cy="573.7" r="2.15"/><circle cx="63.6" cy="587.6" r="2.15"/><circle cx="64.5" cy="572.2" r="2.15"/><circle cx="64.4" cy="564.7" r="2.15"/><circle cx="63.9" cy="563.5" r="2.15"/><circle cx="67.6" cy="557.7" r="2.15"/><circle cx="64.0" cy="557.3" r="2.15"/><circle cx="66.8" cy="556.5" r="2.15"/><circle cx="63.2" cy="561.6" r="2.15"/><circle cx="65.5" cy="561.4" r="2.15"/><circle cx="63.1" cy="571.3" r="2.15"/><circle cx="64.1" cy="561.6" r="2.15"/><circle cx="66.8" cy="563.3" r="2.15"/><circle cx="65.1" cy="554.6" r="2.15"/><circle cx="65.4" cy="579.0" r="2.15"/><circle cx="64.9" cy="569.3" r="2.15"/><circle cx="67.6" cy="580.2" r="2.15"/><circle cx="65.2" cy="571.8" r="2.15"/><circle cx="63.8" cy="577.7" r="2.15"/><circle cx="66.9" cy="562.9" r="2.15"/><circle cx="67.0" cy="571.1" r="2.15"/><circle cx="67.0" cy="588.0" r="2.15"/><circle cx="64.6" cy="554.6" r="2.15"/><circle cx="70.6" cy="575.0" r="2.15"/><circle cx="70.2" cy="579.4" r="2.15"/><circle cx="67.2" cy="568.6" r="2.15"/><circle cx="65.7" cy="571.5" r="2.15"/><circle cx="63.3" cy="575.9" r="2.15"/><circle cx="63.4" cy="559.3" r="2.15"/><circle cx="63.1" cy="568.5" r="2.15"/><circle cx="67.0" cy="557.5" r="2.15"/><circle cx="64.7" cy="559.1" r="2.15"/><circle cx="64.1" cy="559.6" r="2.15"/><circle cx="63.4" cy="563.8" r="2.15"/><circle cx="66.2" cy="566.3" r="2.15"/><circle cx="328.7" cy="550.1" r="2.15"/><circle cx="307.4" cy="544.2" r="2.15"/><circle cx="305.7" cy="541.9" r="2.15"/><circle cx="316.2" cy="532.6" r="2.15"/><circle cx="315.5" cy="534.5" r="2.15"/><circle cx="298.9" cy="514.1" r="2.15"/><circle cx="320.5" cy="552.4" r="2.15"/><circle cx="298.6" cy="500.2" r="2.15"/><circle cx="321.6" cy="562.4" r="2.15"/><circle cx="339.5" cy="546.9" r="2.15"/><circle cx="304.2" cy="523.9" r="2.15"/><circle cx="306.6" cy="540.2" r="2.15"/><circle cx="321.5" cy="559.9" r="2.15"/><circle cx="303.7" cy="536.8" r="2.15"/><circle cx="314.8" cy="556.3" r="2.15"/><circle cx="302.0" cy="531.8" r="2.15"/><circle cx="341.3" cy="567.8" r="2.15"/><circle cx="317.1" cy="560.1" r="2.15"/><circle cx="309.1" cy="537.7" r="2.15"/><circle cx="304.1" cy="550.4" r="2.15"/><circle cx="305.4" cy="536.7" r="2.15"/><circle cx="302.2" cy="531.6" r="2.15"/><circle cx="311.8" cy="530.2" r="2.15"/><circle cx="312.0" cy="538.0" r="2.15"/><circle cx="303.6" cy="541.8" r="2.15"/><circle cx="296.5" cy="504.9" r="2.15"/><circle cx="305.3" cy="542.5" r="2.15"/><circle cx="299.8" cy="530.8" r="2.15"/><circle cx="302.1" cy="533.7" r="2.15"/><circle cx="306.4" cy="509.5" r="2.15"/><circle cx="303.1" cy="530.6" r="2.15"/><circle cx="296.9" cy="529.1" r="2.15"/><circle cx="311.5" cy="531.9" r="2.15"/><circle cx="304.9" cy="535.3" r="2.15"/><circle cx="308.1" cy="509.3" r="2.15"/><circle cx="307.5" cy="545.3" r="2.15"/><circle cx="335.5" cy="544.0" r="2.15"/><circle cx="309.5" cy="549.7" r="2.15"/><circle cx="301.3" cy="507.0" r="2.15"/><circle cx="304.6" cy="542.1" r="2.15"/><circle cx="311.7" cy="538.4" r="2.15"/><circle cx="309.2" cy="548.6" r="2.15"/><circle cx="319.9" cy="535.6" r="2.15"/><circle cx="298.5" cy="516.9" r="2.15"/><circle cx="338.6" cy="579.5" r="2.15"/><circle cx="322.9" cy="538.2" r="2.15"/><circle cx="315.9" cy="535.9" r="2.15"/><circle cx="335.3" cy="548.6" r="2.15"/><circle cx="301.0" cy="516.4" r="2.15"/><circle cx="310.9" cy="554.8" r="2.15"/><circle cx="306.7" cy="557.0" r="2.15"/><circle cx="303.8" cy="524.3" r="2.15"/><circle cx="303.8" cy="512.0" r="2.15"/><circle cx="308.2" cy="552.0" r="2.15"/><circle cx="302.5" cy="544.2" r="2.15"/><circle cx="314.4" cy="553.1" r="2.15"/><circle cx="321.2" cy="561.2" r="2.15"/><circle cx="323.6" cy="538.0" r="2.15"/><circle cx="306.2" cy="533.7" r="2.15"/><circle cx="326.2" cy="532.8" r="2.15"/><circle cx="321.7" cy="530.5" r="2.15"/><circle cx="297.8" cy="534.8" r="2.15"/><circle cx="329.5" cy="542.4" r="2.15"/><circle cx="313.6" cy="570.0" r="2.15"/><circle cx="301.3" cy="530.0" r="2.15"/><circle cx="302.6" cy="523.4" r="2.15"/><circle cx="301.8" cy="539.5" r="2.15"/><circle cx="296.8" cy="542.8" r="2.15"/><circle cx="308.6" cy="544.2" r="2.15"/><circle cx="300.2" cy="512.8" r="2.15"/><circle cx="331.8" cy="555.6" r="2.15"/><circle cx="336.9" cy="568.8" r="2.15"/><circle cx="298.9" cy="519.3" r="2.15"/><circle cx="319.2" cy="537.0" r="2.15"/><circle cx="304.5" cy="545.8" r="2.15"/><circle cx="300.8" cy="530.1" r="2.15"/><circle cx="305.1" cy="521.1" r="2.15"/><circle cx="305.1" cy="529.9" r="2.15"/><circle cx="304.1" cy="524.0" r="2.15"/><circle cx="339.9" cy="556.3" r="2.15"/><circle cx="301.6" cy="530.9" r="2.15"/><circle cx="319.9" cy="560.5" r="2.15"/><circle cx="306.3" cy="544.3" r="2.15"/><circle cx="329.8" cy="531.8" r="2.15"/><circle cx="303.8" cy="537.6" r="2.15"/><circle cx="311.2" cy="551.5" r="2.15"/><circle cx="313.1" cy="547.8" r="2.15"/><circle cx="313.7" cy="555.2" r="2.15"/><circle cx="309.9" cy="533.1" r="2.15"/><circle cx="325.3" cy="537.6" r="2.15"/><circle cx="318.1" cy="556.8" r="2.15"/><circle cx="315.0" cy="531.0" r="2.15"/><circle cx="302.0" cy="504.3" r="2.15"/><circle cx="319.9" cy="559.0" r="2.15"/><circle cx="313.3" cy="533.8" r="2.15"/><circle cx="316.5" cy="541.1" r="2.15"/><circle cx="297.0" cy="504.7" r="2.15"/><circle cx="317.8" cy="529.6" r="2.15"/><circle cx="314.5" cy="529.5" r="2.15"/><circle cx="296.6" cy="516.5" r="2.15"/><circle cx="316.5" cy="549.2" r="2.15"/><circle cx="306.0" cy="508.0" r="2.15"/><circle cx="310.7" cy="549.3" r="2.15"/><circle cx="304.1" cy="519.0" r="2.15"/><circle cx="297.2" cy="509.3" r="2.15"/><circle cx="326.1" cy="557.5" r="2.15"/><circle cx="302.1" cy="529.5" r="2.15"/><circle cx="302.9" cy="513.1" r="2.15"/><circle cx="300.4" cy="549.8" r="2.15"/><circle cx="304.1" cy="522.8" r="2.15"/><circle cx="328.9" cy="553.3" r="2.15"/><circle cx="338.5" cy="554.9" r="2.15"/><circle cx="296.6" cy="537.7" r="2.15"/><circle cx="299.0" cy="519.9" r="2.15"/><circle cx="316.6" cy="556.9" r="2.15"/><circle cx="304.0" cy="524.1" r="2.15"/><circle cx="324.1" cy="562.1" r="2.15"/><circle cx="321.9" cy="538.5" r="2.15"/><circle cx="298.2" cy="519.6" r="2.15"/><circle cx="299.7" cy="549.3" r="2.15"/><circle cx="304.2" cy="537.1" r="2.15"/><circle cx="300.1" cy="528.6" r="2.15"/><circle cx="308.4" cy="565.1" r="2.15"/><circle cx="305.9" cy="539.7" r="2.15"/><circle cx="303.3" cy="522.2" r="2.15"/><circle cx="312.6" cy="550.8" r="2.15"/><circle cx="300.0" cy="512.8" r="2.15"/><circle cx="307.1" cy="550.3" r="2.15"/><circle cx="297.2" cy="536.4" r="2.15"/><circle cx="306.6" cy="529.3" r="2.15"/><circle cx="301.8" cy="522.3" r="2.15"/><circle cx="315.8" cy="546.4" r="2.15"/><circle cx="319.9" cy="546.9" r="2.15"/><circle cx="300.4" cy="515.9" r="2.15"/><circle cx="297.2" cy="528.9" r="2.15"/><circle cx="305.6" cy="510.5" r="2.15"/><circle cx="307.7" cy="532.2" r="2.15"/><circle cx="323.6" cy="543.5" r="2.15"/><circle cx="309.3" cy="535.8" r="2.15"/><circle cx="312.9" cy="545.9" r="2.15"/><circle cx="304.1" cy="518.4" r="2.15"/><circle cx="304.7" cy="541.0" r="2.15"/><circle cx="344.9" cy="551.3" r="2.15"/><circle cx="316.1" cy="536.6" r="2.15"/><circle cx="301.0" cy="512.2" r="2.15"/><circle cx="305.0" cy="520.1" r="2.15"/><circle cx="305.6" cy="539.4" r="2.15"/><circle cx="300.8" cy="516.9" r="2.15"/><circle cx="327.2" cy="550.5" r="2.15"/><circle cx="298.3" cy="536.7" r="2.15"/><circle cx="305.6" cy="547.4" r="2.15"/><circle cx="305.5" cy="553.6" r="2.15"/><circle cx="333.3" cy="547.9" r="2.15"/><circle cx="307.8" cy="524.5" r="2.15"/><circle cx="301.5" cy="541.6" r="2.15"/><circle cx="297.4" cy="500.9" r="2.15"/><circle cx="297.8" cy="473.9" r="2.15"/><circle cx="299.8" cy="513.3" r="2.15"/><circle cx="298.3" cy="492.4" r="2.15"/><circle cx="299.0" cy="481.0" r="2.15"/><circle cx="298.1" cy="504.2" r="2.15"/><circle cx="298.8" cy="506.7" r="2.15"/><circle cx="300.5" cy="498.4" r="2.15"/><circle cx="297.3" cy="511.2" r="2.15"/><circle cx="298.6" cy="474.0" r="2.15"/><circle cx="408.7" cy="561.5" r="2.15"/><circle cx="445.8" cy="549.9" r="2.15"/><circle cx="475.7" cy="561.2" r="2.15"/><circle cx="428.3" cy="577.8" r="2.15"/><circle cx="421.6" cy="553.9" r="2.15"/><circle cx="384.8" cy="559.4" r="2.15"/><circle cx="416.3" cy="559.7" r="2.15"/><circle cx="413.4" cy="534.4" r="2.15"/><circle cx="473.7" cy="557.6" r="2.15"/><circle cx="460.3" cy="550.4" r="2.15"/><circle cx="444.8" cy="568.4" r="2.15"/><circle cx="476.9" cy="554.3" r="2.15"/><circle cx="329.4" cy="549.8" r="2.15"/><circle cx="450.4" cy="554.6" r="2.15"/><circle cx="397.7" cy="557.9" r="2.15"/><circle cx="447.3" cy="551.7" r="2.15"/><circle cx="368.9" cy="556.0" r="2.15"/><circle cx="398.4" cy="544.9" r="2.15"/><circle cx="459.8" cy="554.6" r="2.15"/><circle cx="324.1" cy="563.2" r="2.15"/><circle cx="368.1" cy="573.4" r="2.15"/><circle cx="402.0" cy="562.6" r="2.15"/><circle cx="464.5" cy="558.8" r="2.15"/><circle cx="364.4" cy="566.7" r="2.15"/><circle cx="459.6" cy="565.3" r="2.15"/><circle cx="360.1" cy="570.8" r="2.15"/><circle cx="370.1" cy="565.8" r="2.15"/><circle cx="413.3" cy="555.5" r="2.15"/><circle cx="430.5" cy="558.7" r="2.15"/><circle cx="469.4" cy="558.0" r="2.15"/><circle cx="469.3" cy="559.1" r="2.15"/><circle cx="361.0" cy="558.2" r="2.15"/><circle cx="446.2" cy="549.8" r="2.15"/><circle cx="427.2" cy="538.4" r="2.15"/><circle cx="384.4" cy="550.7" r="2.15"/><circle cx="451.5" cy="539.1" r="2.15"/><circle cx="472.4" cy="557.1" r="2.15"/><circle cx="400.4" cy="556.5" r="2.15"/><circle cx="475.6" cy="542.1" r="2.15"/><circle cx="340.0" cy="562.4" r="2.15"/><circle cx="346.6" cy="564.0" r="2.15"/><circle cx="449.4" cy="557.3" r="2.15"/><circle cx="370.6" cy="570.8" r="2.15"/><circle cx="418.7" cy="572.6" r="2.15"/><circle cx="403.5" cy="546.1" r="2.15"/><circle cx="343.1" cy="565.4" r="2.15"/><circle cx="447.7" cy="560.3" r="2.15"/><circle cx="445.5" cy="560.1" r="2.15"/><circle cx="343.0" cy="564.5" r="2.15"/><circle cx="362.7" cy="550.3" r="2.15"/><circle cx="455.7" cy="551.4" r="2.15"/><circle cx="474.9" cy="549.4" r="2.15"/><circle cx="467.7" cy="550.0" r="2.15"/><circle cx="404.3" cy="555.7" r="2.15"/><circle cx="381.2" cy="544.0" r="2.15"/><circle cx="394.6" cy="547.5" r="2.15"/><circle cx="348.3" cy="561.5" r="2.15"/><circle cx="403.3" cy="555.9" r="2.15"/><circle cx="357.7" cy="559.8" r="2.15"/><circle cx="345.9" cy="540.3" r="2.15"/><circle cx="383.5" cy="549.8" r="2.15"/><circle cx="329.0" cy="551.7" r="2.15"/><circle cx="398.9" cy="556.8" r="2.15"/><circle cx="437.7" cy="551.5" r="2.15"/><circle cx="430.0" cy="564.5" r="2.15"/><circle cx="485.7" cy="556.0" r="2.15"/><circle cx="470.4" cy="556.6" r="2.15"/><circle cx="427.0" cy="556.6" r="2.15"/><circle cx="472.4" cy="562.6" r="2.15"/><circle cx="394.4" cy="552.4" r="2.15"/><circle cx="455.4" cy="566.2" r="2.15"/><circle cx="366.9" cy="560.5" r="2.15"/><circle cx="408.6" cy="557.8" r="2.15"/><circle cx="486.5" cy="556.9" r="2.15"/><circle cx="421.0" cy="561.0" r="2.15"/><circle cx="405.2" cy="565.2" r="2.15"/><circle cx="453.4" cy="564.6" r="2.15"/><circle cx="371.7" cy="559.7" r="2.15"/><circle cx="460.9" cy="564.0" r="2.15"/><circle cx="321.2" cy="557.5" r="2.15"/><circle cx="359.0" cy="567.3" r="2.15"/><circle cx="348.5" cy="556.3" r="2.15"/><circle cx="362.3" cy="538.7" r="2.15"/><circle cx="480.6" cy="568.0" r="2.15"/><circle cx="322.1" cy="557.4" r="2.15"/><circle cx="369.4" cy="546.4" r="2.15"/><circle cx="416.8" cy="554.8" r="2.15"/><circle cx="438.9" cy="548.9" r="2.15"/><circle cx="451.1" cy="574.6" r="2.15"/><circle cx="383.9" cy="560.8" r="2.15"/><circle cx="355.9" cy="543.0" r="2.15"/><circle cx="464.6" cy="561.2" r="2.15"/><circle cx="339.0" cy="553.1" r="2.15"/><circle cx="329.2" cy="573.0" r="2.15"/><circle cx="357.8" cy="547.4" r="2.15"/><circle cx="402.7" cy="537.2" r="2.15"/><circle cx="480.1" cy="557.1" r="2.15"/><circle cx="443.4" cy="553.5" r="2.15"/><circle cx="415.0" cy="552.9" r="2.15"/><circle cx="407.6" cy="538.1" r="2.15"/><circle cx="437.3" cy="560.2" r="2.15"/><circle cx="425.8" cy="570.9" r="2.15"/><circle cx="375.8" cy="540.1" r="2.15"/><circle cx="333.9" cy="566.6" r="2.15"/><circle cx="352.6" cy="551.6" r="2.15"/><circle cx="452.6" cy="576.7" r="2.15"/><circle cx="427.1" cy="560.2" r="2.15"/><circle cx="455.1" cy="554.9" r="2.15"/><circle cx="325.7" cy="566.0" r="2.15"/><circle cx="472.9" cy="561.0" r="2.15"/><circle cx="383.7" cy="551.4" r="2.15"/><circle cx="477.3" cy="562.6" r="2.15"/><circle cx="420.3" cy="552.1" r="2.15"/><circle cx="412.1" cy="541.1" r="2.15"/><circle cx="458.7" cy="574.0" r="2.15"/><circle cx="425.6" cy="553.5" r="2.15"/><circle cx="434.0" cy="551.3" r="2.15"/><circle cx="345.1" cy="559.4" r="2.15"/><circle cx="422.0" cy="543.1" r="2.15"/><circle cx="379.3" cy="544.9" r="2.15"/><circle cx="331.0" cy="552.2" r="2.15"/><circle cx="340.9" cy="552.0" r="2.15"/><circle cx="400.5" cy="557.1" r="2.15"/><circle cx="363.2" cy="566.2" r="2.15"/><circle cx="449.6" cy="552.4" r="2.15"/><circle cx="339.1" cy="560.7" r="2.15"/><circle cx="320.4" cy="561.7" r="2.15"/><circle cx="489.5" cy="547.2" r="2.15"/><circle cx="371.8" cy="558.5" r="2.15"/><circle cx="405.7" cy="548.4" r="2.15"/><circle cx="354.1" cy="565.6" r="2.15"/><circle cx="353.9" cy="560.4" r="2.15"/><circle cx="387.2" cy="556.6" r="2.15"/><circle cx="453.8" cy="545.0" r="2.15"/><circle cx="324.7" cy="557.5" r="2.15"/><circle cx="462.0" cy="549.9" r="2.15"/><circle cx="488.3" cy="562.6" r="2.15"/><circle cx="414.2" cy="555.5" r="2.15"/><circle cx="379.9" cy="549.5" r="2.15"/><circle cx="358.2" cy="564.5" r="2.15"/><circle cx="349.5" cy="562.7" r="2.15"/><circle cx="373.6" cy="551.4" r="2.15"/><circle cx="464.5" cy="566.5" r="2.15"/><circle cx="318.6" cy="553.9" r="2.15"/><circle cx="453.2" cy="553.8" r="2.15"/><circle cx="432.8" cy="557.6" r="2.15"/><circle cx="321.3" cy="550.0" r="2.15"/><circle cx="330.0" cy="552.7" r="2.15"/><circle cx="444.4" cy="555.1" r="2.15"/><circle cx="433.8" cy="569.7" r="2.15"/><circle cx="371.9" cy="569.4" r="2.15"/><circle cx="466.1" cy="554.3" r="2.15"/><circle cx="354.1" cy="570.3" r="2.15"/><circle cx="391.4" cy="556.1" r="2.15"/><circle cx="337.8" cy="559.8" r="2.15"/><circle cx="429.1" cy="564.1" r="2.15"/><circle cx="333.0" cy="559.0" r="2.15"/><circle cx="348.9" cy="577.3" r="2.15"/><circle cx="449.8" cy="558.6" r="2.15"/><circle cx="404.0" cy="546.2" r="2.15"/><circle cx="431.8" cy="567.7" r="2.15"/><circle cx="444.2" cy="553.0" r="2.15"/><circle cx="422.3" cy="553.9" r="2.15"/><circle cx="352.0" cy="530.8" r="2.15"/><circle cx="438.1" cy="565.1" r="2.15"/><circle cx="337.9" cy="563.5" r="2.15"/><circle cx="364.4" cy="563.4" r="2.15"/><circle cx="395.1" cy="564.9" r="2.15"/><circle cx="337.7" cy="571.0" r="2.15"/><circle cx="336.2" cy="556.1" r="2.15"/><circle cx="430.2" cy="564.6" r="2.15"/><circle cx="445.6" cy="550.1" r="2.15"/><circle cx="381.8" cy="553.5" r="2.15"/><circle cx="385.1" cy="565.6" r="2.15"/><circle cx="353.7" cy="559.9" r="2.15"/><circle cx="407.7" cy="545.0" r="2.15"/><circle cx="417.8" cy="559.6" r="2.15"/><circle cx="478.6" cy="554.9" r="2.15"/><circle cx="325.0" cy="549.5" r="2.15"/><circle cx="474.3" cy="560.2" r="2.15"/><circle cx="488.4" cy="553.0" r="2.15"/><circle cx="377.6" cy="543.0" r="2.15"/><circle cx="442.8" cy="546.9" r="2.15"/><circle cx="459.9" cy="571.7" r="2.15"/><circle cx="430.0" cy="543.5" r="2.15"/><circle cx="367.7" cy="558.4" r="2.15"/><circle cx="425.1" cy="561.7" r="2.15"/><circle cx="468.8" cy="562.0" r="2.15"/><circle cx="336.4" cy="546.0" r="2.15"/><circle cx="400.6" cy="553.7" r="2.15"/><circle cx="321.9" cy="557.7" r="2.15"/><circle cx="463.3" cy="563.4" r="2.15"/><circle cx="451.9" cy="551.0" r="2.15"/><circle cx="325.9" cy="546.5" r="2.15"/><circle cx="446.3" cy="565.1" r="2.15"/><circle cx="436.9" cy="566.0" r="2.15"/><circle cx="339.7" cy="559.7" r="2.15"/><circle cx="408.3" cy="551.3" r="2.15"/><circle cx="436.6" cy="560.0" r="2.15"/><circle cx="375.7" cy="557.4" r="2.15"/><circle cx="404.7" cy="563.7" r="2.15"/><circle cx="485.9" cy="545.8" r="2.15"/><circle cx="427.3" cy="557.5" r="2.15"/><circle cx="404.3" cy="555.1" r="2.15"/><circle cx="329.4" cy="547.0" r="2.15"/><circle cx="338.8" cy="558.4" r="2.15"/><circle cx="464.3" cy="556.8" r="2.15"/><circle cx="445.7" cy="553.0" r="2.15"/><circle cx="461.6" cy="559.9" r="2.15"/><circle cx="417.4" cy="544.3" r="2.15"/><circle cx="417.1" cy="556.0" r="2.15"/><circle cx="409.3" cy="560.2" r="2.15"/><circle cx="444.4" cy="558.9" r="2.15"/><circle cx="374.8" cy="565.8" r="2.15"/><circle cx="403.4" cy="546.2" r="2.15"/><circle cx="398.8" cy="543.5" r="2.15"/><circle cx="431.8" cy="558.6" r="2.15"/><circle cx="355.2" cy="560.4" r="2.15"/><circle cx="322.3" cy="574.7" r="2.15"/><circle cx="333.2" cy="561.8" r="2.15"/><circle cx="348.8" cy="549.0" r="2.15"/><circle cx="465.4" cy="563.4" r="2.15"/><circle cx="441.3" cy="549.2" r="2.15"/><circle cx="447.0" cy="543.7" r="2.15"/><circle cx="394.4" cy="578.9" r="2.15"/><circle cx="335.7" cy="559.3" r="2.15"/><circle cx="398.0" cy="562.6" r="2.15"/><circle cx="466.4" cy="561.3" r="2.15"/><circle cx="405.6" cy="572.1" r="2.15"/><circle cx="426.7" cy="558.9" r="2.15"/><circle cx="382.4" cy="567.0" r="2.15"/><circle cx="343.8" cy="547.7" r="2.15"/><circle cx="425.8" cy="544.5" r="2.15"/><circle cx="401.4" cy="568.8" r="2.15"/><circle cx="377.4" cy="569.2" r="2.15"/><circle cx="362.5" cy="560.9" r="2.15"/><circle cx="437.7" cy="558.4" r="2.15"/><circle cx="372.7" cy="557.9" r="2.15"/><circle cx="417.1" cy="550.6" r="2.15"/><circle cx="362.7" cy="569.7" r="2.15"/><circle cx="447.6" cy="562.2" r="2.15"/><circle cx="382.5" cy="560.9" r="2.15"/><circle cx="400.3" cy="559.7" r="2.15"/><circle cx="477.5" cy="565.5" r="2.15"/><circle cx="441.6" cy="560.8" r="2.15"/><circle cx="444.6" cy="562.9" r="2.15"/><circle cx="376.4" cy="546.4" r="2.15"/><circle cx="462.5" cy="560.9" r="2.15"/><circle cx="384.4" cy="575.3" r="2.15"/><circle cx="488.0" cy="552.0" r="2.15"/><circle cx="472.1" cy="555.4" r="2.15"/><circle cx="431.4" cy="564.2" r="2.15"/><circle cx="461.0" cy="564.7" r="2.15"/><circle cx="411.6" cy="561.9" r="2.15"/><circle cx="444.1" cy="542.6" r="2.15"/><circle cx="339.5" cy="560.8" r="2.15"/><circle cx="488.0" cy="546.3" r="2.15"/><circle cx="455.6" cy="549.4" r="2.15"/><circle cx="342.5" cy="561.2" r="2.15"/><circle cx="359.7" cy="554.0" r="2.15"/><circle cx="416.9" cy="563.5" r="2.15"/><circle cx="449.2" cy="583.6" r="2.15"/><circle cx="343.6" cy="563.2" r="2.15"/><circle cx="483.2" cy="562.7" r="2.15"/><circle cx="377.5" cy="548.8" r="2.15"/><circle cx="489.1" cy="551.0" r="2.15"/><circle cx="447.4" cy="547.4" r="2.15"/><circle cx="401.5" cy="551.9" r="2.15"/><circle cx="380.4" cy="547.1" r="2.15"/><circle cx="334.6" cy="550.8" r="2.15"/><circle cx="333.1" cy="554.7" r="2.15"/><circle cx="426.3" cy="547.9" r="2.15"/><circle cx="451.0" cy="544.3" r="2.15"/><circle cx="474.1" cy="544.8" r="2.15"/><circle cx="380.8" cy="560.4" r="2.15"/><circle cx="479.3" cy="557.0" r="2.15"/><circle cx="369.1" cy="565.3" r="2.15"/><circle cx="479.7" cy="565.5" r="2.15"/><circle cx="476.0" cy="553.6" r="2.15"/><circle cx="344.7" cy="562.3" r="2.15"/><circle cx="466.1" cy="544.1" r="2.15"/><circle cx="439.0" cy="576.1" r="2.15"/><circle cx="438.8" cy="566.8" r="2.15"/><circle cx="462.6" cy="554.7" r="2.15"/><circle cx="410.3" cy="546.5" r="2.15"/><circle cx="405.2" cy="559.8" r="2.15"/><circle cx="381.1" cy="540.4" r="2.15"/><circle cx="466.8" cy="549.8" r="2.15"/><circle cx="473.0" cy="562.9" r="2.15"/><circle cx="345.6" cy="557.1" r="2.15"/><circle cx="450.8" cy="552.3" r="2.15"/><circle cx="365.4" cy="564.7" r="2.15"/><circle cx="349.6" cy="547.6" r="2.15"/><circle cx="351.9" cy="558.9" r="2.15"/><circle cx="416.6" cy="552.2" r="2.15"/><circle cx="366.1" cy="549.2" r="2.15"/><circle cx="359.7" cy="560.5" r="2.15"/><circle cx="334.9" cy="548.0" r="2.15"/><circle cx="373.9" cy="572.9" r="2.15"/><circle cx="451.1" cy="551.5" r="2.15"/><circle cx="321.7" cy="573.6" r="2.15"/><circle cx="401.0" cy="547.1" r="2.15"/><circle cx="421.7" cy="561.7" r="2.15"/><circle cx="326.5" cy="546.2" r="2.15"/><circle cx="368.6" cy="545.0" r="2.15"/><circle cx="473.9" cy="557.9" r="2.15"/><circle cx="489.0" cy="562.3" r="2.15"/><circle cx="464.3" cy="545.5" r="2.15"/><circle cx="347.2" cy="566.7" r="2.15"/><circle cx="449.4" cy="549.6" r="2.15"/><circle cx="395.5" cy="557.6" r="2.15"/><circle cx="347.4" cy="559.8" r="2.15"/><circle cx="400.7" cy="561.6" r="2.15"/><circle cx="476.7" cy="541.0" r="2.15"/><circle cx="468.9" cy="570.4" r="2.15"/><circle cx="385.3" cy="561.3" r="2.15"/><circle cx="328.9" cy="552.8" r="2.15"/><circle cx="472.9" cy="547.7" r="2.15"/><circle cx="487.6" cy="541.9" r="2.15"/><circle cx="406.0" cy="544.8" r="2.15"/><circle cx="356.7" cy="561.2" r="2.15"/><circle cx="411.5" cy="553.6" r="2.15"/><circle cx="437.8" cy="546.8" r="2.15"/><circle cx="400.9" cy="552.0" r="2.15"/><circle cx="378.6" cy="570.0" r="2.15"/><circle cx="360.6" cy="553.7" r="2.15"/><circle cx="369.1" cy="551.5" r="2.15"/><circle cx="326.6" cy="568.1" r="2.15"/><circle cx="361.9" cy="560.5" r="2.15"/><circle cx="481.9" cy="556.9" r="2.15"/><circle cx="319.4" cy="551.3" r="2.15"/><circle cx="443.1" cy="543.1" r="2.15"/><circle cx="453.7" cy="546.4" r="2.15"/><circle cx="387.6" cy="552.4" r="2.15"/><circle cx="420.4" cy="554.6" r="2.15"/><circle cx="356.0" cy="559.6" r="2.15"/><circle cx="432.9" cy="561.2" r="2.15"/><circle cx="439.7" cy="558.4" r="2.15"/><circle cx="444.3" cy="558.4" r="2.15"/><circle cx="402.6" cy="547.8" r="2.15"/><circle cx="484.9" cy="538.0" r="2.15"/><circle cx="467.0" cy="552.0" r="2.15"/><circle cx="416.5" cy="548.3" r="2.15"/><circle cx="435.4" cy="550.9" r="2.15"/><circle cx="365.3" cy="554.1" r="2.15"/><circle cx="480.3" cy="545.8" r="2.15"/><circle cx="429.0" cy="546.9" r="2.15"/><circle cx="471.9" cy="555.6" r="2.15"/><circle cx="367.6" cy="557.5" r="2.15"/><circle cx="487.0" cy="550.9" r="2.15"/><circle cx="336.1" cy="560.8" r="2.15"/><circle cx="409.2" cy="554.6" r="2.15"/><circle cx="337.0" cy="547.7" r="2.15"/><circle cx="350.6" cy="556.9" r="2.15"/><circle cx="449.4" cy="572.7" r="2.15"/><circle cx="329.4" cy="550.7" r="2.15"/><circle cx="383.8" cy="566.5" r="2.15"/><circle cx="351.0" cy="568.3" r="2.15"/><circle cx="464.2" cy="569.4" r="2.15"/><circle cx="332.2" cy="549.4" r="2.15"/><circle cx="375.9" cy="573.8" r="2.15"/><circle cx="465.3" cy="557.5" r="2.15"/><circle cx="436.1" cy="554.3" r="2.15"/><circle cx="439.0" cy="554.5" r="2.15"/><circle cx="488.5" cy="561.7" r="2.15"/><circle cx="322.0" cy="556.9" r="2.15"/><circle cx="432.3" cy="555.0" r="2.15"/><circle cx="446.1" cy="567.5" r="2.15"/><circle cx="446.7" cy="550.3" r="2.15"/><circle cx="440.8" cy="547.5" r="2.15"/><circle cx="330.4" cy="563.3" r="2.15"/><circle cx="332.4" cy="562.6" r="2.15"/><circle cx="450.9" cy="565.9" r="2.15"/><circle cx="423.2" cy="547.3" r="2.15"/><circle cx="363.2" cy="565.8" r="2.15"/><circle cx="319.6" cy="560.6" r="2.15"/><circle cx="409.8" cy="571.7" r="2.15"/><circle cx="333.6" cy="545.8" r="2.15"/><circle cx="446.7" cy="558.4" r="2.15"/><circle cx="376.6" cy="554.1" r="2.15"/><circle cx="456.9" cy="542.8" r="2.15"/><circle cx="334.4" cy="550.4" r="2.15"/><circle cx="403.0" cy="566.2" r="2.15"/><circle cx="335.2" cy="552.5" r="2.15"/><circle cx="452.2" cy="550.3" r="2.15"/><circle cx="414.3" cy="564.0" r="2.15"/><circle cx="358.4" cy="565.0" r="2.15"/><circle cx="483.6" cy="565.0" r="2.15"/><circle cx="435.3" cy="549.7" r="2.15"/><circle cx="375.9" cy="556.0" r="2.15"/><circle cx="465.1" cy="565.4" r="2.15"/><circle cx="383.4" cy="550.9" r="2.15"/><circle cx="480.1" cy="550.1" r="2.15"/><circle cx="369.1" cy="563.6" r="2.15"/><circle cx="487.3" cy="569.9" r="2.15"/><circle cx="328.7" cy="546.6" r="2.15"/><circle cx="444.3" cy="534.2" r="2.15"/><circle cx="368.1" cy="544.0" r="2.15"/><circle cx="390.9" cy="547.8" r="2.15"/><circle cx="427.4" cy="555.3" r="2.15"/><circle cx="325.9" cy="561.8" r="2.15"/><circle cx="356.4" cy="555.2" r="2.15"/><circle cx="335.9" cy="550.5" r="2.15"/><circle cx="445.2" cy="557.8" r="2.15"/><circle cx="356.1" cy="548.2" r="2.15"/><circle cx="403.7" cy="556.1" r="2.15"/><circle cx="374.5" cy="551.0" r="2.15"/><circle cx="358.6" cy="579.6" r="2.15"/><circle cx="478.9" cy="563.5" r="2.15"/><circle cx="405.3" cy="549.3" r="2.15"/><circle cx="429.9" cy="547.9" r="2.15"/><circle cx="439.2" cy="552.7" r="2.15"/><circle cx="459.2" cy="542.4" r="2.15"/><circle cx="363.3" cy="550.2" r="2.15"/><circle cx="331.5" cy="550.2" r="2.15"/><circle cx="398.4" cy="564.1" r="2.15"/><circle cx="347.2" cy="552.8" r="2.15"/><circle cx="321.5" cy="549.7" r="2.15"/><circle cx="476.2" cy="545.0" r="2.15"/><circle cx="425.8" cy="546.4" r="2.15"/><circle cx="389.3" cy="555.9" r="2.15"/><circle cx="341.5" cy="554.6" r="2.15"/><circle cx="448.9" cy="566.3" r="2.15"/><circle cx="409.7" cy="551.1" r="2.15"/><circle cx="348.0" cy="565.6" r="2.15"/><circle cx="487.0" cy="558.7" r="2.15"/><circle cx="481.5" cy="556.5" r="2.15"/><circle cx="477.5" cy="539.2" r="2.15"/><circle cx="460.2" cy="545.4" r="2.15"/><circle cx="409.4" cy="562.9" r="2.15"/><circle cx="369.7" cy="568.5" r="2.15"/><circle cx="430.1" cy="558.3" r="2.15"/><circle cx="344.0" cy="563.1" r="2.15"/><circle cx="424.1" cy="553.0" r="2.15"/><circle cx="329.4" cy="553.3" r="2.15"/><circle cx="320.3" cy="550.8" r="2.15"/><circle cx="441.1" cy="564.9" r="2.15"/><circle cx="376.9" cy="559.4" r="2.15"/><circle cx="437.9" cy="554.5" r="2.15"/><circle cx="452.2" cy="553.7" r="2.15"/><circle cx="461.7" cy="561.3" r="2.15"/><circle cx="423.9" cy="559.3" r="2.15"/><circle cx="463.6" cy="549.3" r="2.15"/><circle cx="431.3" cy="571.3" r="2.15"/><circle cx="477.5" cy="558.7" r="2.15"/><circle cx="472.3" cy="556.6" r="2.15"/><circle cx="325.4" cy="569.2" r="2.15"/><circle cx="364.0" cy="565.3" r="2.15"/><circle cx="384.9" cy="555.7" r="2.15"/><circle cx="361.4" cy="561.1" r="2.15"/><circle cx="348.4" cy="547.3" r="2.15"/><circle cx="468.2" cy="551.0" r="2.15"/><circle cx="322.3" cy="537.1" r="2.15"/><circle cx="349.3" cy="567.0" r="2.15"/><circle cx="448.8" cy="540.2" r="2.15"/><circle cx="356.4" cy="562.4" r="2.15"/><circle cx="362.4" cy="549.4" r="2.15"/><circle cx="484.4" cy="548.1" r="2.15"/><circle cx="449.2" cy="554.8" r="2.15"/><circle cx="395.2" cy="558.8" r="2.15"/><circle cx="341.4" cy="561.8" r="2.15"/><circle cx="364.3" cy="571.7" r="2.15"/><circle cx="486.8" cy="559.6" r="2.15"/><circle cx="454.1" cy="564.1" r="2.15"/><circle cx="330.0" cy="551.4" r="2.15"/><circle cx="439.6" cy="562.6" r="2.15"/><circle cx="382.7" cy="557.8" r="2.15"/><circle cx="441.8" cy="552.5" r="2.15"/><circle cx="368.8" cy="555.7" r="2.15"/><circle cx="340.4" cy="556.0" r="2.15"/><circle cx="321.4" cy="558.1" r="2.15"/><circle cx="368.9" cy="560.0" r="2.15"/><circle cx="466.0" cy="552.1" r="2.15"/><circle cx="471.3" cy="550.1" r="2.15"/><circle cx="435.5" cy="562.9" r="2.15"/><circle cx="446.6" cy="541.9" r="2.15"/><circle cx="351.5" cy="551.2" r="2.15"/><circle cx="378.9" cy="569.9" r="2.15"/><circle cx="472.7" cy="533.2" r="2.15"/><circle cx="487.6" cy="550.5" r="2.15"/><circle cx="394.2" cy="562.4" r="2.15"/><circle cx="451.5" cy="542.3" r="2.15"/><circle cx="478.6" cy="578.8" r="2.15"/><circle cx="489.5" cy="534.2" r="2.15"/><circle cx="368.9" cy="568.9" r="2.15"/><circle cx="430.5" cy="569.9" r="2.15"/><circle cx="385.1" cy="564.4" r="2.15"/><circle cx="398.0" cy="554.6" r="2.15"/><circle cx="397.5" cy="559.6" r="2.15"/><circle cx="365.9" cy="548.8" r="2.15"/><circle cx="321.3" cy="563.5" r="2.15"/><circle cx="449.8" cy="546.9" r="2.15"/><circle cx="437.7" cy="554.1" r="2.15"/><circle cx="462.6" cy="565.1" r="2.15"/><circle cx="344.4" cy="546.9" r="2.15"/><circle cx="358.8" cy="553.4" r="2.15"/><circle cx="420.5" cy="557.9" r="2.15"/><circle cx="479.1" cy="545.0" r="2.15"/><circle cx="399.1" cy="566.5" r="2.15"/><circle cx="352.5" cy="559.4" r="2.15"/><circle cx="420.3" cy="543.5" r="2.15"/><circle cx="482.7" cy="556.1" r="2.15"/><circle cx="467.3" cy="549.8" r="2.15"/><circle cx="472.6" cy="550.8" r="2.15"/><circle cx="388.6" cy="557.2" r="2.15"/><circle cx="363.1" cy="550.4" r="2.15"/><circle cx="467.7" cy="564.8" r="2.15"/><circle cx="453.6" cy="550.4" r="2.15"/><circle cx="464.4" cy="564.9" r="2.15"/><circle cx="385.3" cy="556.1" r="2.15"/><circle cx="367.2" cy="563.9" r="2.15"/><circle cx="359.3" cy="551.8" r="2.15"/><circle cx="467.7" cy="552.2" r="2.15"/><circle cx="476.1" cy="546.6" r="2.15"/><circle cx="381.2" cy="561.5" r="2.15"/><circle cx="468.4" cy="564.6" r="2.15"/><circle cx="383.6" cy="574.7" r="2.15"/><circle cx="395.0" cy="567.6" r="2.15"/><circle cx="415.4" cy="558.6" r="2.15"/><circle cx="356.1" cy="554.7" r="2.15"/><circle cx="364.0" cy="559.8" r="2.15"/><circle cx="363.9" cy="556.3" r="2.15"/><circle cx="362.7" cy="569.1" r="2.15"/><circle cx="406.7" cy="564.6" r="2.15"/><circle cx="335.3" cy="549.3" r="2.15"/><circle cx="452.2" cy="550.6" r="2.15"/><circle cx="348.1" cy="568.3" r="2.15"/><circle cx="394.4" cy="559.1" r="2.15"/><circle cx="428.4" cy="554.5" r="2.15"/><circle cx="341.7" cy="566.7" r="2.15"/><circle cx="388.4" cy="553.2" r="2.15"/><circle cx="414.9" cy="554.1" r="2.15"/><circle cx="412.7" cy="552.5" r="2.15"/><circle cx="471.5" cy="539.6" r="2.15"/><circle cx="453.0" cy="563.9" r="2.15"/><circle cx="338.8" cy="546.1" r="2.15"/><circle cx="461.3" cy="551.6" r="2.15"/><circle cx="412.6" cy="550.1" r="2.15"/><circle cx="434.6" cy="562.8" r="2.15"/><circle cx="345.5" cy="555.9" r="2.15"/><circle cx="399.2" cy="556.6" r="2.15"/><circle cx="438.4" cy="542.1" r="2.15"/><circle cx="455.2" cy="555.7" r="2.15"/><circle cx="456.6" cy="543.8" r="2.15"/><circle cx="355.3" cy="559.1" r="2.15"/><circle cx="461.2" cy="559.7" r="2.15"/><circle cx="415.8" cy="556.4" r="2.15"/><circle cx="433.0" cy="574.1" r="2.15"/><circle cx="464.5" cy="561.0" r="2.15"/><circle cx="387.7" cy="561.6" r="2.15"/><circle cx="476.2" cy="557.7" r="2.15"/><circle cx="469.6" cy="554.8" r="2.15"/><circle cx="456.9" cy="564.8" r="2.15"/><circle cx="383.3" cy="566.0" r="2.15"/><circle cx="408.9" cy="545.3" r="2.15"/><circle cx="347.8" cy="565.6" r="2.15"/><circle cx="448.6" cy="560.9" r="2.15"/><circle cx="471.2" cy="564.8" r="2.15"/><circle cx="345.7" cy="560.5" r="2.15"/><circle cx="446.1" cy="545.8" r="2.15"/><circle cx="401.6" cy="534.8" r="2.15"/><circle cx="409.1" cy="528.5" r="2.15"/><circle cx="455.5" cy="525.9" r="2.15"/><circle cx="347.4" cy="531.9" r="2.15"/><circle cx="393.5" cy="523.6" r="2.15"/><circle cx="454.9" cy="515.2" r="2.15"/><circle cx="384.1" cy="520.4" r="2.15"/><circle cx="463.8" cy="526.9" r="2.15"/><circle cx="444.9" cy="534.0" r="2.15"/><circle cx="336.7" cy="527.1" r="2.15"/><circle cx="391.6" cy="520.7" r="2.15"/><circle cx="452.6" cy="534.9" r="2.15"/><circle cx="414.2" cy="523.0" r="2.15"/><circle cx="437.7" cy="519.6" r="2.15"/><circle cx="500.6" cy="534.7" r="2.15"/><circle cx="496.2" cy="537.8" r="2.15"/><circle cx="491.3" cy="579.7" r="2.15"/><circle cx="504.0" cy="507.7" r="2.15"/><circle cx="503.5" cy="510.4" r="2.15"/><circle cx="509.4" cy="488.8" r="2.15"/><circle cx="491.9" cy="552.9" r="2.15"/><circle cx="508.1" cy="497.9" r="2.15"/><circle cx="505.7" cy="503.5" r="2.15"/><circle cx="494.3" cy="567.1" r="2.15"/><circle cx="499.1" cy="536.9" r="2.15"/><circle cx="502.2" cy="523.2" r="2.15"/><circle cx="495.6" cy="542.9" r="2.15"/><circle cx="491.3" cy="545.9" r="2.15"/><circle cx="506.6" cy="499.0" r="2.15"/><circle cx="492.5" cy="549.6" r="2.15"/><circle cx="499.3" cy="539.4" r="2.15"/><circle cx="498.2" cy="534.2" r="2.15"/><circle cx="508.0" cy="510.8" r="2.15"/><circle cx="500.7" cy="531.3" r="2.15"/><circle cx="497.9" cy="544.0" r="2.15"/><circle cx="509.5" cy="493.3" r="2.15"/><circle cx="496.4" cy="543.9" r="2.15"/><circle cx="504.3" cy="516.0" r="2.15"/><circle cx="493.9" cy="561.3" r="2.15"/><circle cx="504.9" cy="499.7" r="2.15"/><circle cx="504.8" cy="512.2" r="2.15"/><circle cx="506.4" cy="526.8" r="2.15"/><circle cx="499.2" cy="529.5" r="2.15"/><circle cx="493.7" cy="550.6" r="2.15"/><circle cx="502.3" cy="510.7" r="2.15"/><circle cx="508.1" cy="479.3" r="2.15"/><circle cx="495.5" cy="557.4" r="2.15"/><circle cx="489.4" cy="560.6" r="2.15"/><circle cx="492.9" cy="559.3" r="2.15"/><circle cx="508.6" cy="511.3" r="2.15"/><circle cx="489.1" cy="585.1" r="2.15"/><circle cx="490.1" cy="551.1" r="2.15"/><circle cx="491.1" cy="570.5" r="2.15"/><circle cx="507.7" cy="501.4" r="2.15"/><circle cx="497.0" cy="543.2" r="2.15"/><circle cx="503.5" cy="517.3" r="2.15"/><circle cx="503.8" cy="511.0" r="2.15"/><circle cx="498.1" cy="550.7" r="2.15"/><circle cx="504.4" cy="515.1" r="2.15"/><circle cx="498.7" cy="535.9" r="2.15"/><circle cx="500.4" cy="537.9" r="2.15"/><circle cx="495.4" cy="554.8" r="2.15"/><circle cx="489.0" cy="564.6" r="2.15"/><circle cx="501.5" cy="524.3" r="2.15"/><circle cx="494.6" cy="566.9" r="2.15"/><circle cx="494.8" cy="553.7" r="2.15"/><circle cx="507.5" cy="495.4" r="2.15"/><circle cx="496.6" cy="532.5" r="2.15"/><circle cx="491.1" cy="556.6" r="2.15"/><circle cx="502.2" cy="507.3" r="2.15"/><circle cx="500.3" cy="526.8" r="2.15"/><circle cx="490.2" cy="562.6" r="2.15"/><circle cx="496.3" cy="521.7" r="2.15"/><circle cx="501.8" cy="519.6" r="2.15"/><circle cx="494.9" cy="554.7" r="2.15"/><circle cx="509.7" cy="492.3" r="2.15"/><circle cx="505.8" cy="493.6" r="2.15"/><circle cx="499.6" cy="541.4" r="2.15"/><circle cx="508.2" cy="486.6" r="2.15"/><circle cx="489.7" cy="547.7" r="2.15"/><circle cx="493.7" cy="542.1" r="2.15"/><circle cx="508.2" cy="493.5" r="2.15"/><circle cx="499.7" cy="538.2" r="2.15"/><circle cx="492.6" cy="569.3" r="2.15"/><circle cx="501.0" cy="525.1" r="2.15"/><circle cx="504.3" cy="497.2" r="2.15"/><circle cx="501.7" cy="513.6" r="2.15"/><circle cx="490.0" cy="551.0" r="2.15"/><circle cx="489.8" cy="558.2" r="2.15"/><circle cx="497.5" cy="519.4" r="2.15"/><circle cx="489.3" cy="561.1" r="2.15"/><circle cx="490.8" cy="566.5" r="2.15"/><circle cx="502.5" cy="515.2" r="2.15"/><circle cx="498.2" cy="539.0" r="2.15"/><circle cx="490.8" cy="550.6" r="2.15"/><circle cx="507.4" cy="481.9" r="2.15"/><circle cx="496.7" cy="534.1" r="2.15"/><circle cx="507.5" cy="507.5" r="2.15"/><circle cx="501.8" cy="529.9" r="2.15"/><circle cx="502.0" cy="514.0" r="2.15"/><circle cx="497.9" cy="547.7" r="2.15"/><circle cx="503.1" cy="510.9" r="2.15"/><circle cx="494.1" cy="566.4" r="2.15"/><circle cx="494.4" cy="554.9" r="2.15"/><circle cx="507.4" cy="492.1" r="2.15"/><circle cx="493.3" cy="562.7" r="2.15"/><circle cx="497.1" cy="531.2" r="2.15"/><circle cx="504.6" cy="498.5" r="2.15"/><circle cx="495.9" cy="529.3" r="2.15"/><circle cx="496.7" cy="543.3" r="2.15"/><circle cx="508.1" cy="493.3" r="2.15"/><circle cx="493.3" cy="553.7" r="2.15"/><circle cx="494.1" cy="547.4" r="2.15"/><circle cx="507.6" cy="509.9" r="2.15"/><circle cx="494.8" cy="544.3" r="2.15"/><circle cx="495.9" cy="536.5" r="2.15"/><circle cx="507.5" cy="508.4" r="2.15"/><circle cx="495.7" cy="558.8" r="2.15"/><circle cx="509.9" cy="493.5" r="2.15"/><circle cx="506.2" cy="483.8" r="2.15"/><circle cx="506.8" cy="493.0" r="2.15"/><circle cx="493.7" cy="559.0" r="2.15"/><circle cx="493.6" cy="553.7" r="2.15"/><circle cx="504.8" cy="522.7" r="2.15"/><circle cx="506.4" cy="487.1" r="2.15"/><circle cx="493.7" cy="559.7" r="2.15"/><circle cx="493.3" cy="548.3" r="2.15"/><circle cx="494.1" cy="564.5" r="2.15"/><circle cx="491.9" cy="559.2" r="2.15"/><circle cx="497.8" cy="546.2" r="2.15"/><circle cx="499.6" cy="522.3" r="2.15"/><circle cx="502.2" cy="503.9" r="2.15"/><circle cx="490.2" cy="548.9" r="2.15"/><circle cx="493.0" cy="549.7" r="2.15"/><circle cx="491.5" cy="549.8" r="2.15"/><circle cx="494.7" cy="561.0" r="2.15"/><circle cx="492.9" cy="569.7" r="2.15"/><circle cx="508.7" cy="495.4" r="2.15"/><circle cx="496.8" cy="529.7" r="2.15"/><circle cx="491.9" cy="558.8" r="2.15"/><circle cx="503.0" cy="507.8" r="2.15"/><circle cx="509.4" cy="505.7" r="2.15"/><circle cx="505.7" cy="506.7" r="2.15"/><circle cx="502.6" cy="521.1" r="2.15"/><circle cx="496.9" cy="535.6" r="2.15"/><circle cx="497.5" cy="517.3" r="2.15"/><circle cx="495.3" cy="538.5" r="2.15"/><circle cx="505.9" cy="491.4" r="2.15"/><circle cx="505.9" cy="506.5" r="2.15"/><circle cx="499.3" cy="530.9" r="2.15"/><circle cx="507.1" cy="489.7" r="2.15"/><circle cx="502.7" cy="512.0" r="2.15"/><circle cx="503.4" cy="528.7" r="2.15"/><circle cx="494.6" cy="539.5" r="2.15"/><circle cx="494.1" cy="542.3" r="2.15"/><circle cx="493.8" cy="550.4" r="2.15"/><circle cx="508.2" cy="486.7" r="2.15"/><circle cx="505.8" cy="498.8" r="2.15"/><circle cx="507.9" cy="499.8" r="2.15"/><circle cx="506.3" cy="518.4" r="2.15"/><circle cx="505.9" cy="484.9" r="2.15"/><circle cx="498.2" cy="534.4" r="2.15"/><circle cx="505.1" cy="506.5" r="2.15"/><circle cx="492.5" cy="557.1" r="2.15"/><circle cx="502.8" cy="513.7" r="2.15"/><circle cx="489.9" cy="556.6" r="2.15"/><circle cx="509.3" cy="501.5" r="2.15"/><circle cx="507.5" cy="491.5" r="2.15"/><circle cx="492.5" cy="556.8" r="2.15"/><circle cx="505.1" cy="505.8" r="2.15"/><circle cx="506.3" cy="502.1" r="2.15"/><circle cx="489.9" cy="558.3" r="2.15"/><circle cx="500.9" cy="533.3" r="2.15"/><circle cx="497.8" cy="535.9" r="2.15"/><circle cx="502.0" cy="520.5" r="2.15"/><circle cx="507.6" cy="495.1" r="2.15"/><circle cx="504.2" cy="499.7" r="2.15"/><circle cx="493.4" cy="545.8" r="2.15"/><circle cx="500.6" cy="513.8" r="2.15"/><circle cx="500.8" cy="525.6" r="2.15"/><circle cx="489.2" cy="552.9" r="2.15"/><circle cx="491.8" cy="549.4" r="2.15"/><circle cx="496.5" cy="543.6" r="2.15"/><circle cx="492.7" cy="562.2" r="2.15"/><circle cx="516.6" cy="484.1" r="2.15"/><circle cx="554.6" cy="493.6" r="2.15"/><circle cx="536.4" cy="483.9" r="2.15"/><circle cx="534.8" cy="497.1" r="2.15"/><circle cx="547.7" cy="498.5" r="2.15"/><circle cx="536.8" cy="496.8" r="2.15"/><circle cx="529.4" cy="493.6" r="2.15"/><circle cx="560.1" cy="494.6" r="2.15"/><circle cx="524.2" cy="467.9" r="2.15"/><circle cx="534.9" cy="496.2" r="2.15"/><circle cx="545.3" cy="487.3" r="2.15"/><circle cx="524.2" cy="490.3" r="2.15"/><circle cx="534.9" cy="487.2" r="2.15"/><circle cx="540.3" cy="478.4" r="2.15"/><circle cx="561.0" cy="485.2" r="2.15"/><circle cx="526.2" cy="494.8" r="2.15"/><circle cx="535.5" cy="500.8" r="2.15"/><circle cx="543.2" cy="484.5" r="2.15"/><circle cx="536.9" cy="482.3" r="2.15"/><circle cx="522.8" cy="501.1" r="2.15"/><circle cx="540.5" cy="482.4" r="2.15"/><circle cx="537.2" cy="506.1" r="2.15"/><circle cx="540.9" cy="489.9" r="2.15"/><circle cx="548.4" cy="482.4" r="2.15"/><circle cx="547.1" cy="497.4" r="2.15"/><circle cx="540.5" cy="503.0" r="2.15"/><circle cx="539.4" cy="478.0" r="2.15"/><circle cx="523.9" cy="502.0" r="2.15"/><circle cx="534.5" cy="487.2" r="2.15"/><circle cx="538.4" cy="501.4" r="2.15"/><circle cx="531.6" cy="486.5" r="2.15"/><circle cx="537.1" cy="476.9" r="2.15"/><circle cx="526.9" cy="493.5" r="2.15"/><circle cx="552.9" cy="496.9" r="2.15"/><circle cx="559.7" cy="506.3" r="2.15"/><circle cx="531.7" cy="503.3" r="2.15"/><circle cx="540.4" cy="495.1" r="2.15"/><circle cx="533.4" cy="487.6" r="2.15"/><circle cx="549.9" cy="485.3" r="2.15"/><circle cx="540.8" cy="487.1" r="2.15"/><circle cx="536.9" cy="482.9" r="2.15"/><circle cx="533.5" cy="487.3" r="2.15"/><circle cx="537.4" cy="469.1" r="2.15"/><circle cx="525.0" cy="490.9" r="2.15"/><circle cx="543.4" cy="489.3" r="2.15"/><circle cx="528.1" cy="510.0" r="2.15"/><circle cx="541.9" cy="495.6" r="2.15"/><circle cx="537.4" cy="485.7" r="2.15"/><circle cx="548.0" cy="494.0" r="2.15"/><circle cx="535.8" cy="479.7" r="2.15"/><circle cx="547.3" cy="484.7" r="2.15"/><circle cx="525.9" cy="474.6" r="2.15"/><circle cx="542.7" cy="501.0" r="2.15"/><circle cx="533.5" cy="494.2" r="2.15"/><circle cx="538.1" cy="480.1" r="2.15"/><circle cx="536.8" cy="489.0" r="2.15"/><circle cx="546.3" cy="497.1" r="2.15"/><circle cx="513.8" cy="493.5" r="2.15"/><circle cx="539.6" cy="492.6" r="2.15"/><circle cx="519.6" cy="482.6" r="2.15"/><circle cx="549.3" cy="484.4" r="2.15"/><circle cx="514.3" cy="490.3" r="2.15"/><circle cx="525.0" cy="496.9" r="2.15"/><circle cx="517.6" cy="482.9" r="2.15"/><circle cx="554.0" cy="480.5" r="2.15"/><circle cx="521.8" cy="498.7" r="2.15"/><circle cx="537.3" cy="482.1" r="2.15"/><circle cx="530.1" cy="498.1" r="2.15"/><circle cx="516.2" cy="491.4" r="2.15"/><circle cx="532.3" cy="496.5" r="2.15"/><circle cx="543.3" cy="503.5" r="2.15"/><circle cx="534.0" cy="495.0" r="2.15"/><circle cx="546.4" cy="495.7" r="2.15"/><circle cx="532.0" cy="482.2" r="2.15"/><circle cx="536.1" cy="483.9" r="2.15"/><circle cx="531.8" cy="494.7" r="2.15"/><circle cx="539.8" cy="501.8" r="2.15"/><circle cx="556.9" cy="500.6" r="2.15"/><circle cx="540.0" cy="508.0" r="2.15"/><circle cx="538.1" cy="492.0" r="2.15"/><circle cx="529.2" cy="491.1" r="2.15"/><circle cx="527.7" cy="497.5" r="2.15"/><circle cx="552.1" cy="489.7" r="2.15"/><circle cx="523.8" cy="489.0" r="2.15"/><circle cx="526.0" cy="481.1" r="2.15"/><circle cx="534.9" cy="497.4" r="2.15"/><circle cx="531.3" cy="480.9" r="2.15"/><circle cx="557.5" cy="493.6" r="2.15"/><circle cx="510.0" cy="478.1" r="2.15"/><circle cx="540.0" cy="498.3" r="2.15"/><circle cx="543.8" cy="481.3" r="2.15"/><circle cx="523.7" cy="496.2" r="2.15"/><circle cx="528.9" cy="476.8" r="2.15"/><circle cx="540.8" cy="486.0" r="2.15"/><circle cx="553.9" cy="498.9" r="2.15"/><circle cx="525.9" cy="483.1" r="2.15"/><circle cx="518.6" cy="490.0" r="2.15"/><circle cx="546.7" cy="485.7" r="2.15"/><circle cx="552.8" cy="471.0" r="2.15"/><circle cx="532.3" cy="492.0" r="2.15"/><circle cx="511.6" cy="493.0" r="2.15"/><circle cx="552.0" cy="480.6" r="2.15"/><circle cx="533.8" cy="494.1" r="2.15"/><circle cx="548.4" cy="483.1" r="2.15"/><circle cx="535.5" cy="481.5" r="2.15"/><circle cx="531.9" cy="489.6" r="2.15"/><circle cx="531.0" cy="484.0" r="2.15"/><circle cx="552.2" cy="507.8" r="2.15"/><circle cx="551.8" cy="477.1" r="2.15"/><circle cx="512.5" cy="495.4" r="2.15"/><circle cx="525.7" cy="497.4" r="2.15"/><circle cx="555.5" cy="473.7" r="2.15"/><circle cx="532.0" cy="475.6" r="2.15"/><circle cx="521.0" cy="494.0" r="2.15"/><circle cx="536.0" cy="485.6" r="2.15"/><circle cx="534.8" cy="492.6" r="2.15"/><circle cx="534.9" cy="498.6" r="2.15"/><circle cx="530.7" cy="486.5" r="2.15"/><circle cx="532.6" cy="481.0" r="2.15"/><circle cx="531.0" cy="467.7" r="2.15"/><circle cx="539.7" cy="491.1" r="2.15"/><circle cx="527.1" cy="482.1" r="2.15"/><circle cx="532.8" cy="492.0" r="2.15"/><circle cx="534.4" cy="491.4" r="2.15"/><circle cx="550.4" cy="478.4" r="2.15"/><circle cx="540.1" cy="503.3" r="2.15"/><circle cx="534.8" cy="498.2" r="2.15"/><circle cx="541.9" cy="496.3" r="2.15"/><circle cx="540.5" cy="480.0" r="2.15"/><circle cx="548.0" cy="486.2" r="2.15"/><circle cx="541.6" cy="485.1" r="2.15"/><circle cx="555.7" cy="486.2" r="2.15"/><circle cx="550.8" cy="480.5" r="2.15"/><circle cx="535.5" cy="493.0" r="2.15"/><circle cx="531.4" cy="491.3" r="2.15"/><circle cx="545.7" cy="492.4" r="2.15"/><circle cx="541.7" cy="485.5" r="2.15"/><circle cx="535.0" cy="499.8" r="2.15"/><circle cx="519.8" cy="491.0" r="2.15"/><circle cx="515.8" cy="467.6" r="2.15"/><circle cx="539.8" cy="484.4" r="2.15"/><circle cx="544.5" cy="489.0" r="2.15"/><circle cx="544.8" cy="497.2" r="2.15"/><circle cx="521.8" cy="487.1" r="2.15"/><circle cx="547.4" cy="487.5" r="2.15"/><circle cx="530.1" cy="484.2" r="2.15"/><circle cx="540.3" cy="494.8" r="2.15"/><circle cx="540.6" cy="485.9" r="2.15"/><circle cx="527.2" cy="484.7" r="2.15"/><circle cx="529.5" cy="483.6" r="2.15"/><circle cx="513.2" cy="494.0" r="2.15"/><circle cx="525.9" cy="485.2" r="2.15"/><circle cx="516.2" cy="476.1" r="2.15"/><circle cx="540.8" cy="494.5" r="2.15"/><circle cx="536.7" cy="483.9" r="2.15"/><circle cx="546.1" cy="492.4" r="2.15"/><circle cx="539.9" cy="492.5" r="2.15"/><circle cx="529.0" cy="499.1" r="2.15"/><circle cx="539.8" cy="497.9" r="2.15"/><circle cx="531.7" cy="484.9" r="2.15"/><circle cx="542.7" cy="488.2" r="2.15"/><circle cx="539.5" cy="479.2" r="2.15"/><circle cx="525.1" cy="502.9" r="2.15"/><circle cx="536.0" cy="493.0" r="2.15"/><circle cx="536.6" cy="500.7" r="2.15"/><circle cx="532.6" cy="486.9" r="2.15"/><circle cx="545.8" cy="473.1" r="2.15"/><circle cx="554.8" cy="501.8" r="2.15"/><circle cx="532.0" cy="490.2" r="2.15"/><circle cx="532.1" cy="490.6" r="2.15"/><circle cx="511.3" cy="489.9" r="2.15"/><circle cx="534.6" cy="494.7" r="2.15"/><circle cx="531.2" cy="493.8" r="2.15"/><circle cx="512.2" cy="476.8" r="2.15"/><circle cx="539.2" cy="498.2" r="2.15"/><circle cx="542.5" cy="485.3" r="2.15"/><circle cx="527.9" cy="485.8" r="2.15"/><circle cx="531.9" cy="503.3" r="2.15"/><circle cx="525.4" cy="496.9" r="2.15"/><circle cx="544.4" cy="486.8" r="2.15"/><circle cx="519.3" cy="474.6" r="2.15"/><circle cx="532.6" cy="490.8" r="2.15"/><circle cx="557.5" cy="493.8" r="2.15"/><circle cx="536.6" cy="488.9" r="2.15"/><circle cx="541.1" cy="479.5" r="2.15"/><circle cx="534.4" cy="483.2" r="2.15"/><circle cx="523.1" cy="479.5" r="2.15"/><circle cx="535.6" cy="491.2" r="2.15"/><circle cx="540.5" cy="496.1" r="2.15"/><circle cx="524.8" cy="497.7" r="2.15"/><circle cx="539.8" cy="483.6" r="2.15"/><circle cx="549.7" cy="491.4" r="2.15"/><circle cx="547.8" cy="493.9" r="2.15"/><circle cx="518.6" cy="485.4" r="2.15"/><circle cx="525.3" cy="488.3" r="2.15"/><circle cx="518.2" cy="506.5" r="2.15"/><circle cx="547.8" cy="491.1" r="2.15"/><circle cx="542.7" cy="496.6" r="2.15"/><circle cx="543.7" cy="486.0" r="2.15"/><circle cx="526.3" cy="489.8" r="2.15"/><circle cx="523.2" cy="475.8" r="2.15"/><circle cx="536.8" cy="489.3" r="2.15"/><circle cx="537.1" cy="499.0" r="2.15"/><circle cx="526.6" cy="506.3" r="2.15"/><circle cx="537.6" cy="499.1" r="2.15"/><circle cx="543.1" cy="495.0" r="2.15"/><circle cx="538.5" cy="489.9" r="2.15"/><circle cx="524.6" cy="484.7" r="2.15"/><circle cx="512.8" cy="488.2" r="2.15"/><circle cx="533.2" cy="494.4" r="2.15"/><circle cx="537.8" cy="483.2" r="2.15"/><circle cx="533.1" cy="497.0" r="2.15"/><circle cx="531.3" cy="481.6" r="2.15"/><circle cx="528.4" cy="475.3" r="2.15"/><circle cx="543.9" cy="481.4" r="2.15"/><circle cx="535.4" cy="476.2" r="2.15"/><circle cx="537.4" cy="478.5" r="2.15"/><circle cx="525.3" cy="498.6" r="2.15"/><circle cx="529.2" cy="487.9" r="2.15"/><circle cx="537.8" cy="491.2" r="2.15"/><circle cx="524.9" cy="498.8" r="2.15"/><circle cx="522.1" cy="499.6" r="2.15"/><circle cx="532.4" cy="485.5" r="2.15"/><circle cx="549.2" cy="500.1" r="2.15"/><circle cx="538.1" cy="492.6" r="2.15"/><circle cx="552.1" cy="489.5" r="2.15"/><circle cx="534.6" cy="493.0" r="2.15"/><circle cx="532.6" cy="478.1" r="2.15"/><circle cx="520.7" cy="483.2" r="2.15"/><circle cx="529.7" cy="488.6" r="2.15"/><circle cx="551.8" cy="494.4" r="2.15"/><circle cx="539.6" cy="486.5" r="2.15"/><circle cx="544.1" cy="488.5" r="2.15"/><circle cx="543.8" cy="497.3" r="2.15"/><circle cx="535.9" cy="500.8" r="2.15"/><circle cx="533.7" cy="495.6" r="2.15"/><circle cx="537.3" cy="499.6" r="2.15"/><circle cx="543.4" cy="486.3" r="2.15"/><circle cx="541.0" cy="487.0" r="2.15"/><circle cx="541.4" cy="492.0" r="2.15"/><circle cx="537.7" cy="487.1" r="2.15"/><circle cx="527.5" cy="485.4" r="2.15"/><circle cx="533.1" cy="502.7" r="2.15"/><circle cx="525.6" cy="487.9" r="2.15"/><circle cx="547.1" cy="481.8" r="2.15"/><circle cx="512.9" cy="493.4" r="2.15"/><circle cx="533.6" cy="504.2" r="2.15"/><circle cx="561.0" cy="490.1" r="2.15"/><circle cx="532.2" cy="499.4" r="2.15"/><circle cx="523.5" cy="486.0" r="2.15"/><circle cx="535.8" cy="485.6" r="2.15"/><circle cx="550.2" cy="484.0" r="2.15"/><circle cx="534.2" cy="488.4" r="2.15"/><circle cx="542.7" cy="504.2" r="2.15"/><circle cx="537.1" cy="480.3" r="2.15"/><circle cx="531.9" cy="502.6" r="2.15"/><circle cx="561.0" cy="481.4" r="2.15"/><circle cx="536.8" cy="487.6" r="2.15"/><circle cx="530.1" cy="496.2" r="2.15"/><circle cx="530.6" cy="494.5" r="2.15"/><circle cx="540.2" cy="491.8" r="2.15"/><circle cx="540.5" cy="476.3" r="2.15"/><circle cx="544.5" cy="492.4" r="2.15"/><circle cx="537.6" cy="481.3" r="2.15"/><circle cx="520.3" cy="510.1" r="2.15"/><circle cx="541.9" cy="487.8" r="2.15"/><circle cx="532.6" cy="491.0" r="2.15"/><circle cx="532.9" cy="480.3" r="2.15"/><circle cx="519.7" cy="485.7" r="2.15"/><circle cx="529.7" cy="479.2" r="2.15"/><circle cx="528.0" cy="497.4" r="2.15"/><circle cx="535.6" cy="487.4" r="2.15"/><circle cx="520.0" cy="494.0" r="2.15"/><circle cx="536.6" cy="484.0" r="2.15"/><circle cx="537.4" cy="485.5" r="2.15"/><circle cx="523.7" cy="499.8" r="2.15"/><circle cx="529.1" cy="481.7" r="2.15"/><circle cx="526.6" cy="475.1" r="2.15"/><circle cx="546.0" cy="492.7" r="2.15"/><circle cx="508.2" cy="480.4" r="2.15"/><circle cx="532.2" cy="486.0" r="2.15"/><circle cx="517.7" cy="496.8" r="2.15"/><circle cx="531.3" cy="483.0" r="2.15"/><circle cx="545.3" cy="496.5" r="2.15"/><circle cx="529.1" cy="484.1" r="2.15"/><circle cx="537.5" cy="501.4" r="2.15"/><circle cx="526.7" cy="500.1" r="2.15"/><circle cx="557.3" cy="485.7" r="2.15"/><circle cx="546.0" cy="487.8" r="2.15"/><circle cx="548.4" cy="482.8" r="2.15"/><circle cx="521.4" cy="491.1" r="2.15"/><circle cx="523.9" cy="498.7" r="2.15"/><circle cx="547.9" cy="477.9" r="2.15"/><circle cx="533.9" cy="496.8" r="2.15"/><circle cx="533.2" cy="478.9" r="2.15"/><circle cx="539.7" cy="482.6" r="2.15"/><circle cx="522.2" cy="475.2" r="2.15"/><circle cx="544.5" cy="506.3" r="2.15"/><circle cx="536.2" cy="490.0" r="2.15"/><circle cx="541.3" cy="491.5" r="2.15"/><circle cx="536.6" cy="497.0" r="2.15"/><circle cx="551.9" cy="504.6" r="2.15"/><circle cx="539.6" cy="490.1" r="2.15"/><circle cx="547.4" cy="473.1" r="2.15"/><circle cx="559.7" cy="515.0" r="2.15"/><circle cx="522.5" cy="489.8" r="2.15"/><circle cx="554.2" cy="509.9" r="2.15"/><circle cx="536.3" cy="497.6" r="2.15"/><circle cx="517.1" cy="500.8" r="2.15"/><circle cx="513.3" cy="515.8" r="2.15"/><circle cx="524.0" cy="496.4" r="2.15"/><circle cx="513.6" cy="510.2" r="2.15"/><circle cx="548.4" cy="472.7" r="2.15"/><circle cx="536.7" cy="503.3" r="2.15"/><circle cx="508.4" cy="488.9" r="2.15"/><circle cx="554.3" cy="490.3" r="2.15"/><circle cx="538.8" cy="492.1" r="2.15"/><circle cx="530.4" cy="496.5" r="2.15"/><circle cx="513.8" cy="513.5" r="2.15"/><circle cx="531.8" cy="467.9" r="2.15"/><circle cx="556.5" cy="492.6" r="2.15"/><circle cx="538.1" cy="482.7" r="2.15"/><circle cx="531.3" cy="507.2" r="2.15"/><circle cx="539.4" cy="486.5" r="2.15"/><circle cx="536.3" cy="497.9" r="2.15"/><circle cx="540.3" cy="486.8" r="2.15"/><circle cx="516.9" cy="500.7" r="2.15"/><circle cx="514.2" cy="505.2" r="2.15"/><circle cx="506.7" cy="486.8" r="2.15"/><circle cx="551.8" cy="492.6" r="2.15"/><circle cx="506.2" cy="473.5" r="2.15"/><circle cx="520.1" cy="496.0" r="2.15"/><circle cx="538.2" cy="503.1" r="2.15"/><circle cx="533.5" cy="484.8" r="2.15"/><circle cx="555.6" cy="506.6" r="2.15"/><circle cx="517.7" cy="465.0" r="2.15"/><circle cx="512.3" cy="467.9" r="2.15"/><circle cx="514.8" cy="474.0" r="2.15"/><circle cx="533.4" cy="485.7" r="2.15"/><circle cx="522.0" cy="492.2" r="2.15"/><circle cx="531.0" cy="491.0" r="2.15"/><circle cx="543.8" cy="491.1" r="2.15"/><circle cx="523.7" cy="501.4" r="2.15"/><circle cx="542.6" cy="485.9" r="2.15"/><circle cx="507.1" cy="475.6" r="2.15"/><circle cx="536.0" cy="475.8" r="2.15"/><circle cx="555.9" cy="519.5" r="2.15"/><circle cx="557.4" cy="461.4" r="2.15"/><circle cx="537.4" cy="489.7" r="2.15"/><circle cx="560.1" cy="511.0" r="2.15"/><circle cx="518.9" cy="498.3" r="2.15"/><circle cx="522.4" cy="481.2" r="2.15"/><circle cx="530.6" cy="492.0" r="2.15"/><circle cx="534.0" cy="503.2" r="2.15"/><circle cx="551.1" cy="507.7" r="2.15"/><circle cx="530.6" cy="480.3" r="2.15"/><circle cx="508.6" cy="501.9" r="2.15"/><circle cx="544.5" cy="495.3" r="2.15"/><circle cx="518.2" cy="506.4" r="2.15"/><circle cx="554.5" cy="510.1" r="2.15"/><circle cx="517.7" cy="487.5" r="2.15"/><circle cx="522.3" cy="473.2" r="2.15"/><circle cx="513.5" cy="497.1" r="2.15"/><circle cx="522.6" cy="515.1" r="2.15"/><circle cx="539.1" cy="500.9" r="2.15"/><circle cx="520.7" cy="495.0" r="2.15"/><circle cx="508.7" cy="523.2" r="2.15"/><circle cx="538.2" cy="478.5" r="2.15"/><circle cx="546.4" cy="503.7" r="2.15"/><circle cx="512.0" cy="484.6" r="2.15"/><circle cx="529.3" cy="492.6" r="2.15"/><circle cx="509.8" cy="493.2" r="2.15"/><circle cx="506.9" cy="511.7" r="2.15"/><circle cx="526.6" cy="479.8" r="2.15"/><circle cx="521.8" cy="485.0" r="2.15"/><circle cx="554.1" cy="471.3" r="2.15"/><circle cx="506.7" cy="498.3" r="2.15"/><circle cx="541.6" cy="486.0" r="2.15"/><circle cx="546.4" cy="497.5" r="2.15"/><circle cx="528.9" cy="478.0" r="2.15"/><circle cx="533.5" cy="487.3" r="2.15"/><circle cx="519.6" cy="505.5" r="2.15"/><circle cx="519.9" cy="489.7" r="2.15"/><circle cx="508.9" cy="500.1" r="2.15"/><circle cx="555.8" cy="498.9" r="2.15"/><circle cx="507.6" cy="487.4" r="2.15"/><circle cx="513.5" cy="471.7" r="2.15"/><circle cx="545.8" cy="504.8" r="2.15"/><circle cx="531.2" cy="494.2" r="2.15"/><circle cx="534.2" cy="504.8" r="2.15"/><circle cx="522.2" cy="465.8" r="2.15"/><circle cx="514.9" cy="470.5" r="2.15"/><circle cx="550.0" cy="464.1" r="2.15"/><circle cx="512.8" cy="480.6" r="2.15"/><circle cx="522.3" cy="505.5" r="2.15"/><circle cx="547.4" cy="499.4" r="2.15"/><circle cx="522.4" cy="491.6" r="2.15"/><circle cx="558.3" cy="493.7" r="2.15"/><circle cx="515.6" cy="501.9" r="2.15"/><circle cx="535.0" cy="488.1" r="2.15"/><circle cx="535.6" cy="497.1" r="2.15"/><circle cx="533.5" cy="493.8" r="2.15"/><circle cx="548.6" cy="463.6" r="2.15"/><circle cx="508.5" cy="487.0" r="2.15"/><circle cx="536.0" cy="509.7" r="2.15"/><circle cx="549.4" cy="486.9" r="2.15"/><circle cx="508.8" cy="490.1" r="2.15"/><circle cx="536.0" cy="484.1" r="2.15"/><circle cx="530.2" cy="485.7" r="2.15"/><circle cx="528.3" cy="506.6" r="2.15"/><circle cx="535.6" cy="488.5" r="2.15"/><circle cx="540.4" cy="478.7" r="2.15"/><circle cx="544.7" cy="451.6" r="2.15"/><circle cx="555.4" cy="484.6" r="2.15"/><circle cx="542.1" cy="466.4" r="2.15"/><circle cx="560.9" cy="468.3" r="2.15"/><circle cx="542.6" cy="502.3" r="2.15"/><circle cx="520.8" cy="501.2" r="2.15"/><circle cx="514.1" cy="467.1" r="2.15"/><circle cx="509.9" cy="503.1" r="2.15"/><circle cx="520.8" cy="498.0" r="2.15"/><circle cx="512.6" cy="481.8" r="2.15"/><circle cx="543.6" cy="501.5" r="2.15"/><circle cx="543.9" cy="470.9" r="2.15"/><circle cx="539.7" cy="476.3" r="2.15"/><circle cx="527.1" cy="473.3" r="2.15"/><circle cx="531.5" cy="477.6" r="2.15"/><circle cx="520.3" cy="503.4" r="2.15"/><circle cx="556.5" cy="474.7" r="2.15"/><circle cx="506.9" cy="477.0" r="2.15"/><circle cx="523.6" cy="479.6" r="2.15"/><circle cx="537.5" cy="494.5" r="2.15"/><circle cx="515.9" cy="487.6" r="2.15"/><circle cx="553.0" cy="503.2" r="2.15"/><circle cx="532.4" cy="482.8" r="2.15"/><circle cx="526.4" cy="475.2" r="2.15"/><circle cx="509.5" cy="485.4" r="2.15"/><circle cx="521.5" cy="492.5" r="2.15"/><circle cx="538.4" cy="479.9" r="2.15"/><circle cx="521.5" cy="495.6" r="2.15"/><circle cx="508.5" cy="515.5" r="2.15"/><circle cx="537.9" cy="484.4" r="2.15"/><circle cx="522.7" cy="492.5" r="2.15"/><circle cx="552.6" cy="509.5" r="2.15"/><circle cx="544.0" cy="483.4" r="2.15"/><circle cx="545.7" cy="480.8" r="2.15"/><circle cx="555.0" cy="477.6" r="2.15"/><circle cx="550.6" cy="497.0" r="2.15"/><circle cx="524.1" cy="498.5" r="2.15"/><circle cx="537.3" cy="489.9" r="2.15"/><circle cx="520.2" cy="492.3" r="2.15"/><circle cx="517.1" cy="508.3" r="2.15"/><circle cx="517.3" cy="503.0" r="2.15"/><circle cx="512.1" cy="473.5" r="2.15"/><circle cx="519.1" cy="491.6" r="2.15"/><circle cx="518.4" cy="493.1" r="2.15"/><circle cx="543.0" cy="501.1" r="2.15"/><circle cx="519.8" cy="488.8" r="2.15"/><circle cx="508.6" cy="483.3" r="2.15"/><circle cx="529.2" cy="485.7" r="2.15"/><circle cx="517.1" cy="468.5" r="2.15"/><circle cx="543.9" cy="491.3" r="2.15"/><circle cx="518.2" cy="483.9" r="2.15"/><circle cx="536.6" cy="497.7" r="2.15"/><circle cx="515.7" cy="478.3" r="2.15"/><circle cx="532.5" cy="485.9" r="2.15"/><circle cx="553.7" cy="478.9" r="2.15"/><circle cx="522.7" cy="477.7" r="2.15"/><circle cx="535.0" cy="500.7" r="2.15"/><circle cx="530.1" cy="485.5" r="2.15"/><circle cx="509.9" cy="497.3" r="2.15"/><circle cx="507.1" cy="477.0" r="2.15"/><circle cx="552.3" cy="492.8" r="2.15"/><circle cx="524.7" cy="469.6" r="2.15"/><circle cx="543.7" cy="485.3" r="2.15"/><circle cx="528.7" cy="485.0" r="2.15"/><circle cx="552.1" cy="499.1" r="2.15"/><circle cx="516.7" cy="493.8" r="2.15"/><circle cx="532.6" cy="489.2" r="2.15"/><circle cx="536.2" cy="502.4" r="2.15"/><circle cx="549.6" cy="493.9" r="2.15"/><circle cx="507.6" cy="498.4" r="2.15"/><circle cx="525.9" cy="501.4" r="2.15"/><circle cx="532.1" cy="490.6" r="2.15"/><circle cx="538.4" cy="487.6" r="2.15"/><circle cx="513.8" cy="495.7" r="2.15"/><circle cx="535.9" cy="486.0" r="2.15"/><circle cx="544.1" cy="496.5" r="2.15"/><circle cx="546.3" cy="505.8" r="2.15"/><circle cx="518.3" cy="502.5" r="2.15"/><circle cx="510.3" cy="460.6" r="2.15"/><circle cx="506.7" cy="457.1" r="2.15"/><circle cx="511.6" cy="473.6" r="2.15"/><circle cx="511.3" cy="440.9" r="2.15"/><circle cx="516.2" cy="447.8" r="2.15"/><circle cx="510.3" cy="461.7" r="2.15"/><circle cx="511.0" cy="439.4" r="2.15"/><circle cx="514.8" cy="473.5" r="2.15"/><circle cx="509.9" cy="478.7" r="2.15"/><circle cx="511.2" cy="451.8" r="2.15"/><circle cx="518.7" cy="470.5" r="2.15"/><circle cx="517.8" cy="448.5" r="2.15"/><circle cx="514.3" cy="477.8" r="2.15"/><circle cx="512.9" cy="446.9" r="2.15"/><circle cx="507.9" cy="438.2" r="2.15"/><circle cx="514.0" cy="440.9" r="2.15"/><circle cx="512.0" cy="457.3" r="2.15"/><circle cx="512.7" cy="439.6" r="2.15"/><circle cx="509.7" cy="479.2" r="2.15"/><circle cx="511.8" cy="464.5" r="2.15"/><circle cx="511.1" cy="461.9" r="2.15"/><circle cx="513.1" cy="464.3" r="2.15"/><circle cx="517.5" cy="455.6" r="2.15"/><circle cx="513.3" cy="475.2" r="2.15"/><circle cx="505.2" cy="467.9" r="2.15"/><circle cx="507.9" cy="456.1" r="2.15"/><circle cx="505.5" cy="449.9" r="2.15"/><circle cx="508.6" cy="444.1" r="2.15"/><circle cx="514.0" cy="451.2" r="2.15"/><circle cx="513.4" cy="452.8" r="2.15"/><circle cx="509.4" cy="441.4" r="2.15"/><circle cx="512.9" cy="476.8" r="2.15"/><circle cx="508.8" cy="448.8" r="2.15"/><circle cx="506.1" cy="460.7" r="2.15"/><circle cx="506.2" cy="440.8" r="2.15"/><circle cx="550.4" cy="461.2" r="2.15"/><circle cx="559.5" cy="465.1" r="2.15"/><circle cx="548.5" cy="441.3" r="2.15"/><circle cx="558.8" cy="479.0" r="2.15"/><circle cx="559.1" cy="444.9" r="2.15"/><circle cx="553.1" cy="449.0" r="2.15"/><circle cx="553.6" cy="468.9" r="2.15"/><circle cx="551.4" cy="452.1" r="2.15"/><circle cx="553.7" cy="474.8" r="2.15"/><circle cx="556.4" cy="448.0" r="2.15"/><circle cx="553.8" cy="451.2" r="2.15"/><circle cx="557.8" cy="467.1" r="2.15"/><circle cx="558.5" cy="474.1" r="2.15"/><circle cx="555.2" cy="475.1" r="2.15"/><circle cx="555.1" cy="450.1" r="2.15"/><circle cx="553.6" cy="460.3" r="2.15"/><circle cx="555.2" cy="455.3" r="2.15"/><circle cx="549.3" cy="466.4" r="2.15"/><circle cx="555.4" cy="447.6" r="2.15"/><circle cx="554.6" cy="473.2" r="2.15"/><circle cx="550.4" cy="468.0" r="2.15"/><circle cx="562.4" cy="445.3" r="2.15"/><circle cx="549.9" cy="451.2" r="2.15"/><circle cx="550.3" cy="452.1" r="2.15"/><circle cx="554.9" cy="477.1" r="2.15"/><circle cx="546.1" cy="457.2" r="2.15"/><circle cx="550.6" cy="463.9" r="2.15"/><circle cx="547.7" cy="477.1" r="2.15"/><circle cx="549.9" cy="454.7" r="2.15"/><circle cx="553.3" cy="477.7" r="2.15"/><circle cx="555.1" cy="450.3" r="2.15"/><circle cx="558.2" cy="438.5" r="2.15"/><circle cx="557.0" cy="442.3" r="2.15"/><circle cx="558.5" cy="467.1" r="2.15"/><circle cx="556.1" cy="454.0" r="2.15"/><circle cx="551.0" cy="471.0" r="2.15"/><circle cx="534.8" cy="465.1" r="2.15"/><circle cx="543.0" cy="472.7" r="2.15"/><circle cx="525.0" cy="468.3" r="2.15"/><circle cx="537.7" cy="473.6" r="2.15"/><circle cx="543.7" cy="475.6" r="2.15"/><circle cx="526.3" cy="469.2" r="2.15"/><circle cx="532.5" cy="477.9" r="2.15"/><circle cx="551.6" cy="474.5" r="2.15"/><circle cx="556.2" cy="476.4" r="2.15"/><circle cx="524.9" cy="455.5" r="2.15"/><circle cx="509.6" cy="455.4" r="2.15"/><circle cx="551.5" cy="470.9" r="2.15"/><circle cx="530.2" cy="463.3" r="2.15"/><circle cx="558.3" cy="476.8" r="2.15"/><circle cx="547.2" cy="464.8" r="2.15"/><circle cx="525.9" cy="473.6" r="2.15"/><circle cx="551.9" cy="461.2" r="2.15"/><circle cx="535.6" cy="470.7" r="2.15"/><circle cx="544.5" cy="477.5" r="2.15"/><circle cx="553.8" cy="476.6" r="2.15"/><circle cx="537.3" cy="464.2" r="2.15"/><circle cx="557.2" cy="467.0" r="2.15"/><circle cx="527.5" cy="468.4" r="2.15"/><circle cx="526.5" cy="463.6" r="2.15"/><circle cx="610.8" cy="500.4" r="2.15"/><circle cx="662.2" cy="498.5" r="2.15"/><circle cx="653.1" cy="502.8" r="2.15"/><circle cx="592.7" cy="497.2" r="2.15"/><circle cx="632.2" cy="511.0" r="2.15"/><circle cx="660.5" cy="508.5" r="2.15"/><circle cx="597.7" cy="512.3" r="2.15"/><circle cx="649.8" cy="506.8" r="2.15"/><circle cx="644.3" cy="495.0" r="2.15"/><circle cx="653.9" cy="500.4" r="2.15"/><circle cx="568.0" cy="509.3" r="2.15"/><circle cx="657.8" cy="498.3" r="2.15"/><circle cx="664.0" cy="526.9" r="2.15"/><circle cx="584.8" cy="499.7" r="2.15"/><circle cx="626.7" cy="496.8" r="2.15"/><circle cx="568.6" cy="511.7" r="2.15"/><circle cx="623.4" cy="508.2" r="2.15"/><circle cx="634.8" cy="501.6" r="2.15"/><circle cx="638.8" cy="499.8" r="2.15"/><circle cx="650.7" cy="505.5" r="2.15"/><circle cx="590.4" cy="509.0" r="2.15"/><circle cx="571.4" cy="508.4" r="2.15"/><circle cx="646.4" cy="499.2" r="2.15"/><circle cx="561.8" cy="505.5" r="2.15"/><circle cx="583.9" cy="509.1" r="2.15"/><circle cx="584.3" cy="508.4" r="2.15"/><circle cx="641.9" cy="475.3" r="2.15"/><circle cx="606.3" cy="494.1" r="2.15"/><circle cx="648.6" cy="495.1" r="2.15"/><circle cx="630.5" cy="499.8" r="2.15"/><circle cx="649.2" cy="503.3" r="2.15"/><circle cx="643.1" cy="509.7" r="2.15"/><circle cx="653.2" cy="507.1" r="2.15"/><circle cx="588.5" cy="500.7" r="2.15"/><circle cx="597.0" cy="502.0" r="2.15"/><circle cx="626.2" cy="516.9" r="2.15"/><circle cx="621.4" cy="496.5" r="2.15"/><circle cx="642.2" cy="504.4" r="2.15"/><circle cx="645.5" cy="515.3" r="2.15"/><circle cx="591.6" cy="504.8" r="2.15"/><circle cx="571.9" cy="484.2" r="2.15"/><circle cx="638.3" cy="505.0" r="2.15"/><circle cx="632.5" cy="498.5" r="2.15"/><circle cx="588.6" cy="500.8" r="2.15"/><circle cx="565.1" cy="510.8" r="2.15"/><circle cx="561.5" cy="505.8" r="2.15"/><circle cx="585.6" cy="499.5" r="2.15"/><circle cx="588.3" cy="509.5" r="2.15"/><circle cx="581.2" cy="505.5" r="2.15"/><circle cx="564.4" cy="502.7" r="2.15"/><circle cx="577.2" cy="504.4" r="2.15"/><circle cx="596.4" cy="504.0" r="2.15"/><circle cx="568.9" cy="498.9" r="2.15"/><circle cx="581.1" cy="497.9" r="2.15"/><circle cx="605.9" cy="502.0" r="2.15"/><circle cx="649.7" cy="493.6" r="2.15"/><circle cx="652.3" cy="491.0" r="2.15"/><circle cx="602.3" cy="513.0" r="2.15"/><circle cx="572.5" cy="499.7" r="2.15"/><circle cx="587.8" cy="501.6" r="2.15"/><circle cx="631.2" cy="500.6" r="2.15"/><circle cx="602.6" cy="502.0" r="2.15"/><circle cx="620.0" cy="502.0" r="2.15"/><circle cx="637.8" cy="502.4" r="2.15"/><circle cx="629.5" cy="494.9" r="2.15"/><circle cx="651.0" cy="509.8" r="2.15"/><circle cx="568.2" cy="495.8" r="2.15"/><circle cx="590.8" cy="510.7" r="2.15"/><circle cx="562.6" cy="485.3" r="2.15"/><circle cx="614.8" cy="492.7" r="2.15"/><circle cx="624.8" cy="510.3" r="2.15"/><circle cx="586.2" cy="500.5" r="2.15"/><circle cx="564.9" cy="496.0" r="2.15"/><circle cx="608.6" cy="505.0" r="2.15"/><circle cx="576.9" cy="492.8" r="2.15"/><circle cx="579.8" cy="502.5" r="2.15"/><circle cx="599.8" cy="482.7" r="2.15"/><circle cx="660.1" cy="497.9" r="2.15"/><circle cx="597.5" cy="496.2" r="2.15"/><circle cx="634.9" cy="506.4" r="2.15"/><circle cx="598.9" cy="509.3" r="2.15"/><circle cx="602.4" cy="494.5" r="2.15"/><circle cx="574.0" cy="515.6" r="2.15"/><circle cx="578.8" cy="496.7" r="2.15"/><circle cx="641.5" cy="484.1" r="2.15"/><circle cx="604.9" cy="481.3" r="2.15"/><circle cx="589.5" cy="515.0" r="2.15"/><circle cx="664.6" cy="501.0" r="2.15"/><circle cx="653.0" cy="496.2" r="2.15"/><circle cx="587.3" cy="495.4" r="2.15"/><circle cx="605.5" cy="492.4" r="2.15"/><circle cx="619.7" cy="513.4" r="2.15"/><circle cx="576.8" cy="501.1" r="2.15"/><circle cx="604.7" cy="517.2" r="2.15"/><circle cx="589.4" cy="500.1" r="2.15"/><circle cx="645.7" cy="481.6" r="2.15"/><circle cx="569.1" cy="509.1" r="2.15"/><circle cx="665.1" cy="498.6" r="2.15"/><circle cx="584.2" cy="499.8" r="2.15"/><circle cx="594.4" cy="515.3" r="2.15"/><circle cx="567.1" cy="499.5" r="2.15"/><circle cx="656.7" cy="511.8" r="2.15"/><circle cx="647.6" cy="501.8" r="2.15"/><circle cx="566.2" cy="495.3" r="2.15"/><circle cx="615.5" cy="506.2" r="2.15"/><circle cx="600.8" cy="496.6" r="2.15"/><circle cx="623.8" cy="512.4" r="2.15"/><circle cx="594.9" cy="510.1" r="2.15"/><circle cx="661.3" cy="502.3" r="2.15"/><circle cx="582.3" cy="507.0" r="2.15"/><circle cx="646.8" cy="506.7" r="2.15"/><circle cx="587.6" cy="499.4" r="2.15"/><circle cx="628.5" cy="509.5" r="2.15"/><circle cx="604.8" cy="499.8" r="2.15"/><circle cx="615.3" cy="507.1" r="2.15"/><circle cx="614.9" cy="493.6" r="2.15"/><circle cx="626.0" cy="502.7" r="2.15"/><circle cx="566.3" cy="505.4" r="2.15"/><circle cx="565.4" cy="495.0" r="2.15"/><circle cx="662.9" cy="498.2" r="2.15"/><circle cx="586.1" cy="497.2" r="2.15"/><circle cx="597.2" cy="508.1" r="2.15"/><circle cx="584.7" cy="495.6" r="2.15"/><circle cx="628.1" cy="505.6" r="2.15"/><circle cx="664.3" cy="514.9" r="2.15"/><circle cx="602.1" cy="504.9" r="2.15"/><circle cx="593.4" cy="488.0" r="2.15"/><circle cx="596.4" cy="502.9" r="2.15"/><circle cx="561.9" cy="510.8" r="2.15"/><circle cx="568.6" cy="499.4" r="2.15"/><circle cx="564.1" cy="511.4" r="2.15"/><circle cx="593.7" cy="507.2" r="2.15"/><circle cx="664.3" cy="505.5" r="2.15"/><circle cx="574.1" cy="499.6" r="2.15"/><circle cx="617.7" cy="497.5" r="2.15"/><circle cx="581.2" cy="499.7" r="2.15"/><circle cx="562.9" cy="502.4" r="2.15"/><circle cx="648.6" cy="506.4" r="2.15"/><circle cx="572.6" cy="505.5" r="2.15"/><circle cx="573.5" cy="499.3" r="2.15"/><circle cx="646.4" cy="502.4" r="2.15"/><circle cx="585.1" cy="505.2" r="2.15"/><circle cx="580.3" cy="487.9" r="2.15"/><circle cx="659.9" cy="495.3" r="2.15"/><circle cx="579.8" cy="495.0" r="2.15"/><circle cx="648.0" cy="500.1" r="2.15"/><circle cx="591.8" cy="499.5" r="2.15"/><circle cx="619.5" cy="499.7" r="2.15"/><circle cx="592.3" cy="494.4" r="2.15"/><circle cx="595.3" cy="507.7" r="2.15"/><circle cx="658.8" cy="504.3" r="2.15"/><circle cx="656.1" cy="487.8" r="2.15"/><circle cx="577.7" cy="502.0" r="2.15"/><circle cx="636.5" cy="492.2" r="2.15"/><circle cx="573.9" cy="516.6" r="2.15"/><circle cx="591.0" cy="498.0" r="2.15"/><circle cx="566.6" cy="498.5" r="2.15"/><circle cx="628.3" cy="502.7" r="2.15"/><circle cx="636.7" cy="500.2" r="2.15"/><circle cx="638.9" cy="501.4" r="2.15"/><circle cx="641.9" cy="515.2" r="2.15"/><circle cx="601.2" cy="503.9" r="2.15"/><circle cx="578.0" cy="509.1" r="2.15"/><circle cx="559.5" cy="511.6" r="2.15"/><circle cx="606.1" cy="493.6" r="2.15"/><circle cx="658.9" cy="516.5" r="2.15"/><circle cx="607.0" cy="507.9" r="2.15"/><circle cx="624.9" cy="510.2" r="2.15"/><circle cx="657.1" cy="494.5" r="2.15"/><circle cx="651.3" cy="509.0" r="2.15"/><circle cx="638.2" cy="505.5" r="2.15"/><circle cx="622.4" cy="497.3" r="2.15"/><circle cx="583.8" cy="521.6" r="2.15"/><circle cx="639.1" cy="506.8" r="2.15"/><circle cx="603.7" cy="499.9" r="2.15"/><circle cx="634.6" cy="503.6" r="2.15"/><circle cx="582.9" cy="509.8" r="2.15"/><circle cx="659.7" cy="511.7" r="2.15"/><circle cx="576.6" cy="507.0" r="2.15"/><circle cx="643.6" cy="512.4" r="2.15"/><circle cx="654.3" cy="514.6" r="2.15"/><circle cx="575.3" cy="491.3" r="2.15"/><circle cx="651.6" cy="497.8" r="2.15"/><circle cx="627.9" cy="493.9" r="2.15"/><circle cx="623.6" cy="502.8" r="2.15"/><circle cx="586.2" cy="514.4" r="2.15"/><circle cx="594.1" cy="507.6" r="2.15"/><circle cx="584.2" cy="493.0" r="2.15"/><circle cx="606.2" cy="499.4" r="2.15"/><circle cx="628.3" cy="510.8" r="2.15"/><circle cx="637.0" cy="497.4" r="2.15"/><circle cx="634.5" cy="501.1" r="2.15"/><circle cx="596.1" cy="504.6" r="2.15"/><circle cx="595.0" cy="486.3" r="2.15"/><circle cx="640.7" cy="508.7" r="2.15"/><circle cx="663.2" cy="504.9" r="2.15"/><circle cx="582.7" cy="506.9" r="2.15"/><circle cx="603.2" cy="493.6" r="2.15"/><circle cx="588.5" cy="495.4" r="2.15"/><circle cx="663.3" cy="496.8" r="2.15"/><circle cx="560.8" cy="504.1" r="2.15"/><circle cx="654.5" cy="502.6" r="2.15"/><circle cx="641.1" cy="503.1" r="2.15"/><circle cx="594.5" cy="517.4" r="2.15"/><circle cx="631.8" cy="513.2" r="2.15"/><circle cx="598.6" cy="495.8" r="2.15"/><circle cx="627.1" cy="496.4" r="2.15"/><circle cx="604.5" cy="516.7" r="2.15"/><circle cx="656.9" cy="499.2" r="2.15"/><circle cx="608.0" cy="513.8" r="2.15"/><circle cx="645.9" cy="515.7" r="2.15"/><circle cx="620.7" cy="497.3" r="2.15"/><circle cx="598.9" cy="499.7" r="2.15"/><circle cx="662.4" cy="502.7" r="2.15"/><circle cx="579.9" cy="494.5" r="2.15"/><circle cx="656.2" cy="493.6" r="2.15"/><circle cx="664.0" cy="498.5" r="2.15"/><circle cx="649.9" cy="509.3" r="2.15"/><circle cx="624.3" cy="498.1" r="2.15"/><circle cx="625.6" cy="500.2" r="2.15"/><circle cx="658.3" cy="498.0" r="2.15"/><circle cx="605.3" cy="490.2" r="2.15"/><circle cx="647.2" cy="514.7" r="2.15"/><circle cx="641.9" cy="481.8" r="2.15"/><circle cx="650.9" cy="496.3" r="2.15"/><circle cx="606.2" cy="506.8" r="2.15"/><circle cx="628.8" cy="490.0" r="2.15"/><circle cx="568.9" cy="507.2" r="2.15"/><circle cx="566.7" cy="512.7" r="2.15"/><circle cx="570.5" cy="494.6" r="2.15"/><circle cx="637.7" cy="503.8" r="2.15"/><circle cx="597.0" cy="492.4" r="2.15"/><circle cx="656.2" cy="506.3" r="2.15"/><circle cx="567.5" cy="502.7" r="2.15"/><circle cx="577.4" cy="503.8" r="2.15"/><circle cx="648.5" cy="513.7" r="2.15"/><circle cx="603.8" cy="506.0" r="2.15"/><circle cx="582.6" cy="513.5" r="2.15"/><circle cx="642.6" cy="507.4" r="2.15"/><circle cx="584.1" cy="491.7" r="2.15"/><circle cx="663.2" cy="504.2" r="2.15"/><circle cx="588.4" cy="506.2" r="2.15"/><circle cx="650.9" cy="489.5" r="2.15"/><circle cx="610.3" cy="513.4" r="2.15"/><circle cx="659.1" cy="502.6" r="2.15"/><circle cx="590.7" cy="505.1" r="2.15"/><circle cx="658.0" cy="494.3" r="2.15"/><circle cx="591.4" cy="502.6" r="2.15"/><circle cx="607.0" cy="504.5" r="2.15"/><circle cx="626.7" cy="499.2" r="2.15"/><circle cx="618.3" cy="502.7" r="2.15"/><circle cx="630.8" cy="483.7" r="2.15"/><circle cx="633.5" cy="513.7" r="2.15"/><circle cx="587.7" cy="492.4" r="2.15"/><circle cx="559.9" cy="483.2" r="2.15"/><circle cx="636.4" cy="493.7" r="2.15"/><circle cx="623.2" cy="494.8" r="2.15"/><circle cx="619.3" cy="506.6" r="2.15"/><circle cx="612.0" cy="494.1" r="2.15"/><circle cx="658.3" cy="504.4" r="2.15"/><circle cx="590.8" cy="493.7" r="2.15"/><circle cx="656.6" cy="520.9" r="2.15"/><circle cx="577.0" cy="506.6" r="2.15"/><circle cx="633.3" cy="518.8" r="2.15"/><circle cx="659.7" cy="493.2" r="2.15"/><circle cx="575.5" cy="507.7" r="2.15"/><circle cx="641.4" cy="493.7" r="2.15"/><circle cx="588.2" cy="506.9" r="2.15"/><circle cx="565.3" cy="507.8" r="2.15"/><circle cx="605.1" cy="488.2" r="2.15"/><circle cx="633.8" cy="492.2" r="2.15"/><circle cx="589.3" cy="491.9" r="2.15"/><circle cx="660.7" cy="489.0" r="2.15"/><circle cx="559.2" cy="495.7" r="2.15"/><circle cx="587.7" cy="493.7" r="2.15"/><circle cx="595.6" cy="489.5" r="2.15"/><circle cx="598.7" cy="502.8" r="2.15"/><circle cx="591.1" cy="506.6" r="2.15"/><circle cx="561.3" cy="490.6" r="2.15"/><circle cx="581.5" cy="497.1" r="2.15"/><circle cx="587.0" cy="502.0" r="2.15"/><circle cx="631.0" cy="499.9" r="2.15"/><circle cx="599.4" cy="495.9" r="2.15"/><circle cx="636.3" cy="508.9" r="2.15"/><circle cx="606.3" cy="509.2" r="2.15"/><circle cx="595.5" cy="507.8" r="2.15"/><circle cx="576.0" cy="500.1" r="2.15"/><circle cx="583.4" cy="519.0" r="2.15"/><circle cx="655.5" cy="516.9" r="2.15"/><circle cx="607.7" cy="498.4" r="2.15"/><circle cx="592.5" cy="500.9" r="2.15"/><circle cx="582.4" cy="512.1" r="2.15"/><circle cx="652.8" cy="495.0" r="2.15"/><circle cx="634.3" cy="505.3" r="2.15"/><circle cx="633.3" cy="502.3" r="2.15"/><circle cx="645.1" cy="495.8" r="2.15"/><circle cx="584.8" cy="499.9" r="2.15"/><circle cx="637.2" cy="488.4" r="2.15"/><circle cx="566.6" cy="497.2" r="2.15"/><circle cx="630.1" cy="484.7" r="2.15"/><circle cx="593.5" cy="521.5" r="2.15"/><circle cx="629.8" cy="514.8" r="2.15"/><circle cx="583.2" cy="512.4" r="2.15"/><circle cx="596.8" cy="504.5" r="2.15"/><circle cx="630.7" cy="510.5" r="2.15"/><circle cx="659.5" cy="512.8" r="2.15"/><circle cx="595.5" cy="510.6" r="2.15"/><circle cx="577.1" cy="509.8" r="2.15"/><circle cx="572.3" cy="494.0" r="2.15"/><circle cx="630.8" cy="505.5" r="2.15"/><circle cx="654.7" cy="497.3" r="2.15"/><circle cx="560.8" cy="491.7" r="2.15"/><circle cx="595.9" cy="492.0" r="2.15"/><circle cx="577.1" cy="505.5" r="2.15"/><circle cx="661.1" cy="510.9" r="2.15"/><circle cx="573.2" cy="490.1" r="2.15"/><circle cx="566.3" cy="516.9" r="2.15"/><circle cx="641.2" cy="514.5" r="2.15"/><circle cx="665.9" cy="498.6" r="2.15"/><circle cx="641.8" cy="497.9" r="2.15"/><circle cx="571.3" cy="501.2" r="2.15"/><circle cx="602.6" cy="510.3" r="2.15"/><circle cx="614.6" cy="498.5" r="2.15"/><circle cx="655.2" cy="492.3" r="2.15"/><circle cx="639.6" cy="504.8" r="2.15"/><circle cx="565.4" cy="484.1" r="2.15"/><circle cx="607.5" cy="503.0" r="2.15"/><circle cx="642.3" cy="511.8" r="2.15"/><circle cx="617.1" cy="504.4" r="2.15"/><circle cx="630.3" cy="508.5" r="2.15"/><circle cx="662.5" cy="506.1" r="2.15"/><circle cx="663.7" cy="508.1" r="2.15"/><circle cx="648.5" cy="503.1" r="2.15"/><circle cx="620.2" cy="494.7" r="2.15"/><circle cx="591.9" cy="499.9" r="2.15"/><circle cx="576.1" cy="501.2" r="2.15"/><circle cx="576.9" cy="512.6" r="2.15"/><circle cx="627.5" cy="515.8" r="2.15"/><circle cx="641.7" cy="505.4" r="2.15"/><circle cx="650.9" cy="495.3" r="2.15"/><circle cx="656.8" cy="495.5" r="2.15"/><circle cx="589.8" cy="500.2" r="2.15"/><circle cx="594.8" cy="513.7" r="2.15"/><circle cx="580.0" cy="504.7" r="2.15"/><circle cx="617.2" cy="501.3" r="2.15"/><circle cx="660.3" cy="495.2" r="2.15"/><circle cx="640.1" cy="509.4" r="2.15"/><circle cx="605.7" cy="504.3" r="2.15"/><circle cx="576.0" cy="501.4" r="2.15"/><circle cx="649.2" cy="502.7" r="2.15"/><circle cx="654.9" cy="516.3" r="2.15"/><circle cx="641.2" cy="500.4" r="2.15"/><circle cx="590.3" cy="516.3" r="2.15"/><circle cx="600.8" cy="512.5" r="2.15"/><circle cx="621.4" cy="502.3" r="2.15"/><circle cx="657.2" cy="509.4" r="2.15"/><circle cx="585.0" cy="500.7" r="2.15"/><circle cx="603.9" cy="494.7" r="2.15"/><circle cx="565.4" cy="499.5" r="2.15"/><circle cx="559.3" cy="494.0" r="2.15"/><circle cx="585.0" cy="506.2" r="2.15"/><circle cx="645.6" cy="501.9" r="2.15"/><circle cx="631.3" cy="506.7" r="2.15"/><circle cx="610.0" cy="508.9" r="2.15"/><circle cx="602.8" cy="475.0" r="2.15"/><circle cx="587.3" cy="504.5" r="2.15"/><circle cx="641.0" cy="486.3" r="2.15"/><circle cx="611.2" cy="503.2" r="2.15"/><circle cx="566.5" cy="494.3" r="2.15"/><circle cx="626.1" cy="502.7" r="2.15"/><circle cx="665.3" cy="513.5" r="2.15"/><circle cx="566.8" cy="487.1" r="2.15"/><circle cx="665.7" cy="503.4" r="2.15"/><circle cx="569.6" cy="501.1" r="2.15"/><circle cx="591.9" cy="485.5" r="2.15"/><circle cx="663.5" cy="507.4" r="2.15"/><circle cx="663.0" cy="502.1" r="2.15"/><circle cx="578.8" cy="497.4" r="2.15"/><circle cx="636.1" cy="495.6" r="2.15"/><circle cx="624.6" cy="529.4" r="2.15"/><circle cx="615.2" cy="524.7" r="2.15"/><circle cx="637.6" cy="511.7" r="2.15"/><circle cx="647.5" cy="522.6" r="2.15"/><circle cx="661.9" cy="529.4" r="2.15"/><circle cx="630.6" cy="528.4" r="2.15"/><circle cx="586.5" cy="526.1" r="2.15"/><circle cx="620.9" cy="510.3" r="2.15"/><circle cx="605.9" cy="520.4" r="2.15"/><circle cx="584.2" cy="515.8" r="2.15"/><circle cx="594.6" cy="522.4" r="2.15"/><circle cx="583.5" cy="513.6" r="2.15"/><circle cx="616.7" cy="513.2" r="2.15"/><circle cx="566.1" cy="532.8" r="2.15"/><circle cx="617.1" cy="531.1" r="2.15"/><circle cx="603.1" cy="512.3" r="2.15"/><circle cx="559.7" cy="529.9" r="2.15"/><circle cx="588.5" cy="511.6" r="2.15"/><circle cx="662.9" cy="518.1" r="2.15"/><circle cx="621.0" cy="533.9" r="2.15"/><circle cx="565.9" cy="532.6" r="2.15"/><circle cx="620.8" cy="521.2" r="2.15"/><circle cx="634.3" cy="526.8" r="2.15"/><circle cx="573.4" cy="519.2" r="2.15"/><circle cx="602.1" cy="530.4" r="2.15"/><circle cx="581.9" cy="517.6" r="2.15"/><circle cx="617.1" cy="515.0" r="2.15"/><circle cx="647.0" cy="513.5" r="2.15"/><circle cx="584.6" cy="525.1" r="2.15"/><circle cx="573.9" cy="523.4" r="2.15"/><circle cx="573.9" cy="531.7" r="2.15"/>
</g>
<path d="M295.5 599.2V423.4" stroke="#4682b4" stroke-width="2.8" stroke-dasharray="10 4.35" fill="none"/>
<path d="M490.3 599.2V423.4" stroke="#ffd700" stroke-width="2.8" stroke-dasharray="10 4.35" fill="none"/>
<path d="M557.4 599.2V423.4" stroke="#ffa500" stroke-width="2.8" stroke-dasharray="10 4.35" fill="none"/>
<g fill="#000">
<circle cx="66.2" cy="516.2" r="2.25"/><circle cx="65.1" cy="526.1" r="2.25"/><circle cx="66.5" cy="534.8" r="2.25"/><circle cx="66.8" cy="542.5" r="2.25"/><circle cx="64.0" cy="549.8" r="2.25"/><circle cx="73.0" cy="546.7" r="2.25"/><circle cx="65.9" cy="557.1" r="2.25"/><circle cx="83.7" cy="536.0" r="2.25"/><circle cx="102.0" cy="541.3" r="2.25"/><circle cx="84.3" cy="568.7" r="2.25"/><circle cx="126.9" cy="564.5" r="2.25"/><circle cx="150.6" cy="559.4" r="2.25"/><circle cx="168.1" cy="516.2" r="2.25"/><circle cx="173.7" cy="590.7" r="2.25"/><circle cx="269.4" cy="519.3" r="2.25"/><circle cx="269.4" cy="541.9" r="2.25"/><circle cx="268.9" cy="556.0" r="2.25"/><circle cx="283.0" cy="527.8" r="2.25"/><circle cx="283.6" cy="529.5" r="2.25"/><circle cx="284.7" cy="545.0" r="2.25"/><circle cx="281.6" cy="554.0" r="2.25"/><circle cx="281.0" cy="568.1" r="2.25"/><circle cx="242.1" cy="563.3" r="2.25"/><circle cx="246.0" cy="561.9" r="2.25"/><circle cx="243.8" cy="569.5" r="2.25"/><circle cx="295.2" cy="431.3" r="2.25"/><circle cx="293.2" cy="459.2" r="2.25"/><circle cx="302.2" cy="507.5" r="2.25"/><circle cx="323.9" cy="508.3" r="2.25"/><circle cx="315.2" cy="520.5" r="2.25"/><circle cx="318.0" cy="521.9" r="2.25"/><circle cx="300.0" cy="528.6" r="2.25"/><circle cx="304.8" cy="526.7" r="2.25"/><circle cx="308.1" cy="528.1" r="2.25"/><circle cx="304.8" cy="533.7" r="2.25"/><circle cx="299.1" cy="537.1" r="2.25"/><circle cx="288.4" cy="533.7" r="2.25"/><circle cx="306.2" cy="541.3" r="2.25"/><circle cx="308.4" cy="545.0" r="2.25"/><circle cx="306.2" cy="547.0" r="2.25"/><circle cx="292.1" cy="547.0" r="2.25"/><circle cx="285.0" cy="545.0" r="2.25"/><circle cx="323.9" cy="559.1" r="2.25"/><circle cx="336.6" cy="553.5" r="2.25"/><circle cx="356.1" cy="509.7" r="2.25"/><circle cx="361.7" cy="518.2" r="2.25"/><circle cx="370.8" cy="517.1" r="2.25"/><circle cx="370.2" cy="537.9" r="2.25"/><circle cx="354.1" cy="545.6" r="2.25"/><circle cx="367.1" cy="545.6" r="2.25"/><circle cx="374.2" cy="547.5" r="2.25"/><circle cx="375.6" cy="549.2" r="2.25"/><circle cx="366.8" cy="569.0" r="2.25"/><circle cx="384.9" cy="546.4" r="2.25"/><circle cx="385.5" cy="553.5" r="2.25"/><circle cx="397.3" cy="543.0" r="2.25"/><circle cx="398.4" cy="541.3" r="2.25"/><circle cx="402.1" cy="543.0" r="2.25"/><circle cx="395.0" cy="555.4" r="2.25"/><circle cx="400.1" cy="557.4" r="2.25"/><circle cx="398.4" cy="561.1" r="2.25"/><circle cx="404.3" cy="552.1" r="2.25"/><circle cx="406.3" cy="555.4" r="2.25"/><circle cx="407.7" cy="547.8" r="2.25"/><circle cx="406.3" cy="559.7" r="2.25"/><circle cx="412.5" cy="565.3" r="2.25"/><circle cx="413.9" cy="547.0" r="2.25"/><circle cx="416.2" cy="554.9" r="2.25"/><circle cx="419.8" cy="552.6" r="2.25"/><circle cx="424.1" cy="545.0" r="2.25"/><circle cx="425.5" cy="545.8" r="2.25"/><circle cx="426.9" cy="535.7" r="2.25"/><circle cx="433.1" cy="542.7" r="2.25"/><circle cx="432.5" cy="553.5" r="2.25"/><circle cx="437.3" cy="548.4" r="2.25"/><circle cx="435.3" cy="524.4" r="2.25"/><circle cx="441.6" cy="552.6" r="2.25"/><circle cx="447.2" cy="544.2" r="2.25"/><circle cx="450.9" cy="544.2" r="2.25"/><circle cx="452.8" cy="549.8" r="2.25"/><circle cx="452.3" cy="563.9" r="2.25"/><circle cx="455.7" cy="556.3" r="2.25"/><circle cx="459.3" cy="549.2" r="2.25"/><circle cx="460.5" cy="555.4" r="2.25"/><circle cx="463.6" cy="543.6" r="2.25"/><circle cx="464.1" cy="556.9" r="2.25"/><circle cx="467.0" cy="548.4" r="2.25"/><circle cx="468.9" cy="546.4" r="2.25"/><circle cx="467.8" cy="552.6" r="2.25"/><circle cx="471.7" cy="549.8" r="2.25"/><circle cx="473.4" cy="545.6" r="2.25"/><circle cx="482.8" cy="547.0" r="2.25"/><circle cx="487.9" cy="552.6" r="2.25"/><circle cx="495.0" cy="540.8" r="2.25"/><circle cx="494.4" cy="549.2" r="2.25"/><circle cx="497.8" cy="524.4" r="2.25"/><circle cx="498.9" cy="528.1" r="2.25"/><circle cx="502.0" cy="529.5" r="2.25"/><circle cx="499.8" cy="515.9" r="2.25"/><circle cx="502.0" cy="520.2" r="2.25"/><circle cx="503.1" cy="533.4" r="2.25"/><circle cx="505.4" cy="525.0" r="2.25"/><circle cx="506.0" cy="511.7" r="2.25"/><circle cx="507.4" cy="506.9" r="2.25"/><circle cx="508.2" cy="494.2" r="2.25"/><circle cx="509.1" cy="497.6" r="2.25"/><circle cx="510.2" cy="477.8" r="2.25"/><circle cx="507.7" cy="456.7" r="2.25"/><circle cx="509.3" cy="458.1" r="2.25"/><circle cx="511.6" cy="443.4" r="2.25"/><circle cx="513.0" cy="455.3" r="2.25"/><circle cx="512.4" cy="463.7" r="2.25"/><circle cx="515.3" cy="468.0" r="2.25"/><circle cx="513.9" cy="480.1" r="2.25"/><circle cx="513.9" cy="489.1" r="2.25"/><circle cx="516.1" cy="493.4" r="2.25"/><circle cx="517.5" cy="453.9" r="2.25"/><circle cx="519.5" cy="449.6" r="2.25"/><circle cx="525.1" cy="445.4" r="2.25"/><circle cx="526.6" cy="455.8" r="2.25"/><circle cx="523.2" cy="464.3" r="2.25"/><circle cx="521.5" cy="472.8" r="2.25"/><circle cx="522.3" cy="480.1" r="2.25"/><circle cx="520.3" cy="488.6" r="2.25"/><circle cx="522.3" cy="492.8" r="2.25"/><circle cx="524.3" cy="503.8" r="2.25"/><circle cx="527.1" cy="489.1" r="2.25"/><circle cx="529.9" cy="490.0" r="2.25"/><circle cx="529.4" cy="479.3" r="2.25"/><circle cx="533.6" cy="485.5" r="2.25"/><circle cx="535.0" cy="480.7" r="2.25"/><circle cx="536.4" cy="482.6" r="2.25"/><circle cx="539.3" cy="481.5" r="2.25"/><circle cx="541.2" cy="483.5" r="2.25"/><circle cx="544.3" cy="477.3" r="2.25"/><circle cx="545.7" cy="464.6" r="2.25"/><circle cx="550.0" cy="469.4" r="2.25"/><circle cx="550.5" cy="476.4" r="2.25"/><circle cx="553.4" cy="461.5" r="2.25"/><circle cx="553.9" cy="453.9" r="2.25"/><circle cx="556.2" cy="448.2" r="2.25"/><circle cx="559.0" cy="458.1" r="2.25"/><circle cx="562.9" cy="463.2" r="2.25"/><circle cx="559.8" cy="474.5" r="2.25"/><circle cx="559.8" cy="489.7" r="2.25"/><circle cx="564.3" cy="485.7" r="2.25"/><circle cx="571.9" cy="483.5" r="2.25"/><circle cx="570.0" cy="493.4" r="2.25"/><circle cx="567.7" cy="513.1" r="2.25"/><circle cx="583.2" cy="505.5" r="2.25"/><circle cx="592.5" cy="504.1" r="2.25"/><circle cx="593.9" cy="497.6" r="2.25"/><circle cx="593.1" cy="505.2" r="2.25"/><circle cx="597.9" cy="499.9" r="2.25"/><circle cx="600.1" cy="486.3" r="2.25"/><circle cx="606.6" cy="496.2" r="2.25"/><circle cx="608.6" cy="491.1" r="2.25"/><circle cx="613.7" cy="493.4" r="2.25"/><circle cx="615.1" cy="496.7" r="2.25"/><circle cx="619.3" cy="492.8" r="2.25"/><circle cx="621.3" cy="495.6" r="2.25"/><circle cx="618.5" cy="503.8" r="2.25"/><circle cx="624.1" cy="484.3" r="2.25"/><circle cx="627.0" cy="494.2" r="2.25"/><circle cx="628.9" cy="496.7" r="2.25"/><circle cx="628.9" cy="502.7" r="2.25"/><circle cx="630.6" cy="508.3" r="2.25"/><circle cx="634.0" cy="503.2" r="2.25"/><circle cx="637.4" cy="496.2" r="2.25"/><circle cx="638.2" cy="490.5" r="2.25"/><circle cx="638.8" cy="502.4" r="2.25"/><circle cx="645.3" cy="510.9" r="2.25"/><circle cx="644.4" cy="518.8" r="2.25"/><circle cx="649.5" cy="480.1" r="2.25"/><circle cx="650.9" cy="492.0" r="2.25"/><circle cx="650.9" cy="498.4" r="2.25"/><circle cx="651.8" cy="505.5" r="2.25"/><circle cx="657.4" cy="508.9" r="2.25"/><circle cx="660.2" cy="500.4" r="2.25"/><circle cx="663.1" cy="511.1" r="2.25"/><circle cx="663.1" cy="523.8" r="2.25"/><circle cx="554.2" cy="479.3" r="2.25"/><circle cx="553.4" cy="489.1" r="2.25"/><circle cx="556.2" cy="495.3" r="2.25"/>
</g>
</g>
<rect x="62.4" y="0.4" width="604.1" height="176.1" fill="none" stroke="#000" stroke-width="1.1"/>
<path d="M62.40 176.5v4.75M137.91 176.5v4.75M213.43 176.5v4.75M288.94 176.5v4.75M364.45 176.5v4.75M439.96 176.5v4.75M515.48 176.5v4.75M590.99 176.5v4.75M666.50 176.5v4.75" stroke="#000" stroke-width="1.1" fill="none"/>
<text x="62.40" y="196.0" text-anchor="middle">00:00</text>
<text x="137.91" y="196.0" text-anchor="middle">03:00</text>
<text x="213.43" y="196.0" text-anchor="middle">06:00</text>
<text x="288.94" y="196.0" text-anchor="middle">09:00</text>
<text x="364.45" y="196.0" text-anchor="middle">12:00</text>
<text x="439.96" y="196.0" text-anchor="middle">15:00</text>
<text x="515.48" y="196.0" text-anchor="middle">18:00</text>
<text x="590.99" y="196.0" text-anchor="middle">21:00</text>
<text x="666.50" y="196.0" text-anchor="middle">00:00</text>
<rect x="62.4" y="211.7" width="604.1" height="176.2" fill="none" stroke="#000" stroke-width="1.1"/>
<path d="M62.40 387.9v4.75M137.91 387.9v4.75M213.43 387.9v4.75M288.94 387.9v4.75M364.45 387.9v4.75M439.96 387.9v4.75M515.48 387.9v4.75M590.99 387.9v4.75M666.50 387.9v4.75" stroke="#000" stroke-width="1.1" fill="none"/>
<text x="62.40" y="408.0" text-anchor="middle">00:00</text>
<text x="137.91" y="408.0" text-anchor="middle">03:00</text>
<text x="213.43" y="408.0" text-anchor="middle">06:00</text>
<text x="288.94" y="408.0" text-anchor="middle">09:00</text>
<text x="364.45" y="408.0" text-anchor="middle">12:00</text>
<text x="439.96" y="408.0" text-anchor="middle">15:00</text>
<text x="515.48" y="408.0" text-anchor="middle">18:00</text>
<text x="590.99" y="408.0" text-anchor="middle">21:00</text>
<text x="666.50" y="408.0" text-anchor="middle">00:00</text>
<rect x="62.4" y="423.4" width="604.1" height="175.8" fill="none" stroke="#000" stroke-width="1.1"/>
<path d="M62.40 599.2v4.75M137.91 599.2v4.75M213.43 599.2v4.75M288.94 599.2v4.75M364.45 599.2v4.75M439.96 599.2v4.75M515.48 599.2v4.75M590.99 599.2v4.75M666.50 599.2v4.75" stroke="#000" stroke-width="1.1" fill="none"/>
<text x="62.40" y="619.3" text-anchor="middle">00:00</text>
<text x="137.91" y="619.3" text-anchor="middle">03:00</text>
<text x="213.43" y="619.3" text-anchor="middle">06:00</text>
<text x="288.94" y="619.3" text-anchor="middle">09:00</text>
<text x="364.45" y="619.3" text-anchor="middle">12:00</text>
<text x="439.96" y="619.3" text-anchor="middle">15:00</text>
<text x="515.48" y="619.3" text-anchor="middle">18:00</text>
<text x="590.99" y="619.3" text-anchor="middle">21:00</text>
<text x="666.50" y="619.3" text-anchor="middle">00:00</text>
<path d="M62.4 19.00h-4.75M62.4 50.48h-4.75M62.4 81.95h-4.75M62.4 113.43h-4.75M62.4 144.90h-4.75M62.4 176.38h-4.75" stroke="#000" stroke-width="1.1" fill="none"/>
<text x="52.9" y="24.0" text-anchor="end">2.0</text>
<text x="52.9" y="55.5" text-anchor="end">1.5</text>
<text x="52.9" y="87.0" text-anchor="end">1.0</text>
<text x="52.9" y="118.4" text-anchor="end">0.5</text>
<text x="52.9" y="149.9" text-anchor="end">0.0</text>
<text x="52.9" y="181.4" text-anchor="end">−0.5</text>
<path d="M62.4 214.70h-4.75M62.4 256.05h-4.75M62.4 297.40h-4.75M62.4 338.75h-4.75M62.4 380.10h-4.75" stroke="#000" stroke-width="1.1" fill="none"/>
<text x="52.9" y="219.7" text-anchor="end">2000</text>
<text x="52.9" y="261.1" text-anchor="end">1500</text>
<text x="52.9" y="302.4" text-anchor="end">1000</text>
<text x="52.9" y="343.8" text-anchor="end">500</text>
<text x="52.9" y="385.1" text-anchor="end">0</text>
<path d="M62.4 452.90h-4.75M62.4 482.70h-4.75M62.4 512.50h-4.75M62.4 542.30h-4.75M62.4 572.10h-4.75" stroke="#000" stroke-width="1.1" fill="none"/>
<text x="52.9" y="457.9" text-anchor="end">4</text>
<text x="52.9" y="487.7" text-anchor="end">3</text>
<text x="52.9" y="517.5" text-anchor="end">2</text>
<text x="52.9" y="547.3" text-anchor="end">1</text>
<text x="52.9" y="577.1" text-anchor="end">0</text>
<text transform="translate(12.3 88.45) rotate(-90)" text-anchor="middle">Displacement (m)</text>
<text transform="translate(10.7 299.79999999999995) rotate(-90)" text-anchor="middle">Cumulative Events</text>
<text transform="translate(36.2 512.0) rotate(-90)" text-anchor="middle"><tspan font-style="italic">M</tspan><tspan font-style="italic" font-size="9.5" dy="2.8">L</tspan></text>
<text x="364.4" y="638.1" text-anchor="middle">Time</text>
<text x="74.6" y="35.8">(a)</text>
<text x="74.6" y="230.3">(b)</text>
<text x="74.6" y="441.7">(c)</text>
<text x="68.8" y="14.3">PHASE</text>
<text x="175.5" y="14.3" text-anchor="middle">1</text>
<text x="318.6" y="14.3" text-anchor="middle">2a</text>
<text x="421.6" y="14.3" text-anchor="middle">2b</text>
<text x="525.9" y="14.3" text-anchor="middle">3</text>
<text x="610.2" y="14.3" text-anchor="middle">4</text>
<circle cx="88.1" cy="78.9" r="3.6" fill="#7f7f7f"/><circle cx="88.1" cy="98.7" r="3.6" fill="#000"/>
<text x="112.2" y="82.4">GV09 Up</text><text x="112.2" y="102.0">GV03 Up</text>
<path d="M71.6 289.1H104.2" stroke="#dc143c" stroke-width="5.6"/><path d="M71.6 308.9H104.2" stroke="#000" stroke-width="5.6"/>
<text x="112.2" y="294.3">Enhanced catalogue</text><text x="112.2" y="314.1">Manual catalogue</text>
</svg>
</body></html>
